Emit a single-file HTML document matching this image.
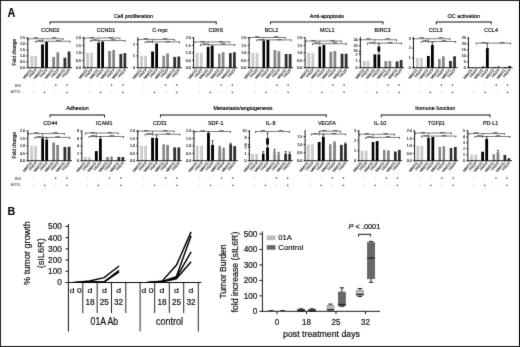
<!DOCTYPE html>
<html><head><meta charset="utf-8"><title>Figure</title>
<style>html,body{margin:0;padding:0;background:#fff;}body{width:520px;height:347px;overflow:hidden;}svg{display:block;font-family:"Liberation Sans", sans-serif;}</style>
</head><body>
<svg width="520" height="347" viewBox="0 0 520 347">
<defs><filter id="soft" x="0" y="0" width="1" height="1" color-interpolation-filters="sRGB"><feConvolveMatrix order="3" kernelMatrix="1 6 1 6 60 6 1 6 1" divisor="88" edgeMode="duplicate" preserveAlpha="true"/></filter></defs>
<g filter="url(#soft)">
<rect x="0" y="0" width="520" height="347" fill="#fff"/>
<text transform="translate(50.3 32.05) scale(0.1000 0.1)" font-size="54.00" text-anchor="middle" font-weight="normal" fill="#000" stroke="#000" stroke-width="1.40" >CCND2</text>
<rect x="30.48" y="55.90" width="2.80" height="11.85" fill="#c9c9c9" />
<rect x="34.23" y="55.90" width="2.80" height="11.85" fill="#c9c9c9" />
<rect x="41.10" y="44.40" width="2.80" height="23.35" fill="#000000" />
<rect x="45.15" y="41.90" width="2.80" height="25.85" fill="#000000" />
<rect x="52.25" y="56.90" width="2.75" height="10.85" fill="#858585" />
<rect x="56.43" y="52.25" width="2.80" height="15.50" fill="#858585" />
<rect x="63.50" y="57.75" width="2.75" height="10.00" fill="#303030" />
<rect x="67.65" y="51.50" width="2.80" height="16.25" fill="#303030" />
<line x1="27.85" y1="37.3" x2="27.85" y2="68.15" stroke="#000" stroke-width="0.9" />
<line x1="27.450000000000003" y1="67.75" x2="72" y2="67.75" stroke="#000" stroke-width="0.9" />
<line x1="26.35" y1="37.9" x2="27.85" y2="37.9" stroke="#000" stroke-width="0.8" />
<text transform="translate(25.150000000000002 39.199999999999996) scale(0.1000 0.1)" font-size="37.00" text-anchor="end" font-weight="normal" fill="#111" stroke="#111" stroke-width="1.20" >2.5</text>
<line x1="26.35" y1="44" x2="27.85" y2="44" stroke="#000" stroke-width="0.8" />
<text transform="translate(25.150000000000002 45.3) scale(0.1000 0.1)" font-size="37.00" text-anchor="end" font-weight="normal" fill="#111" stroke="#111" stroke-width="1.20" >2.0</text>
<line x1="26.35" y1="50" x2="27.85" y2="50" stroke="#000" stroke-width="0.8" />
<text transform="translate(25.150000000000002 51.3) scale(0.1000 0.1)" font-size="37.00" text-anchor="end" font-weight="normal" fill="#111" stroke="#111" stroke-width="1.20" >1.5</text>
<line x1="26.35" y1="56" x2="27.85" y2="56" stroke="#000" stroke-width="0.8" />
<text transform="translate(25.150000000000002 57.3) scale(0.1000 0.1)" font-size="37.00" text-anchor="end" font-weight="normal" fill="#111" stroke="#111" stroke-width="1.20" >1.0</text>
<line x1="26.35" y1="61.9" x2="27.85" y2="61.9" stroke="#000" stroke-width="0.8" />
<text transform="translate(25.150000000000002 63.199999999999996) scale(0.1000 0.1)" font-size="37.00" text-anchor="end" font-weight="normal" fill="#111" stroke="#111" stroke-width="1.20" >0.5</text>
<line x1="26.35" y1="67.75" x2="27.85" y2="67.75" stroke="#000" stroke-width="0.8" />
<text transform="translate(25.150000000000002 69.05) scale(0.1000 0.1)" font-size="37.00" text-anchor="end" font-weight="normal" fill="#111" stroke="#111" stroke-width="1.20" >0.0</text>
<line x1="31.875" y1="67.75" x2="31.875" y2="69.05" stroke="#222" stroke-width="0.5" />
<text transform="translate(32.08 70.35) rotate(-50) scale(0.1120 0.1)" font-size="36.00" text-anchor="end" font-weight="normal" fill="#333" stroke="#333" stroke-width="1.20" >MM1S</text>
<line x1="35.625" y1="67.75" x2="35.625" y2="69.05" stroke="#222" stroke-width="0.5" />
<text transform="translate(36.62 70.35) rotate(-50) scale(0.1120 0.1)" font-size="36.00" text-anchor="end" font-weight="normal" fill="#333" stroke="#333" stroke-width="1.20" >H929</text>
<line x1="42.5" y1="67.75" x2="42.5" y2="69.05" stroke="#222" stroke-width="0.5" />
<text transform="translate(42.7 70.35) rotate(-50) scale(0.1120 0.1)" font-size="36.00" text-anchor="end" font-weight="normal" fill="#333" stroke="#333" stroke-width="1.20" >MM1S</text>
<line x1="46.55" y1="67.75" x2="46.55" y2="69.05" stroke="#222" stroke-width="0.5" />
<text transform="translate(47.55 70.35) rotate(-50) scale(0.1120 0.1)" font-size="36.00" text-anchor="end" font-weight="normal" fill="#333" stroke="#333" stroke-width="1.20" >H929</text>
<line x1="53.625" y1="67.75" x2="53.625" y2="69.05" stroke="#222" stroke-width="0.5" />
<text transform="translate(53.83 70.35) rotate(-50) scale(0.1120 0.1)" font-size="36.00" text-anchor="end" font-weight="normal" fill="#333" stroke="#333" stroke-width="1.20" >MM1S</text>
<line x1="57.825" y1="67.75" x2="57.825" y2="69.05" stroke="#222" stroke-width="0.5" />
<text transform="translate(58.83 70.35) rotate(-50) scale(0.1120 0.1)" font-size="36.00" text-anchor="end" font-weight="normal" fill="#333" stroke="#333" stroke-width="1.20" >H929</text>
<line x1="64.875" y1="67.75" x2="64.875" y2="69.05" stroke="#222" stroke-width="0.5" />
<text transform="translate(65.07 70.35) rotate(-50) scale(0.1120 0.1)" font-size="36.00" text-anchor="end" font-weight="normal" fill="#333" stroke="#333" stroke-width="1.20" >MM1S</text>
<line x1="69.05" y1="67.75" x2="69.05" y2="69.05" stroke="#222" stroke-width="0.5" />
<text transform="translate(70.05 70.35) rotate(-50) scale(0.1120 0.1)" font-size="36.00" text-anchor="end" font-weight="normal" fill="#333" stroke="#333" stroke-width="1.20" >H929</text>
<line x1="28" y1="38.75" x2="63" y2="38.75" stroke="#222" stroke-width="0.6" />
<line x1="28" y1="38.45" x2="28" y2="40.15" stroke="#111" stroke-width="0.7" />
<line x1="63" y1="38.45" x2="63" y2="40.15" stroke="#111" stroke-width="0.7" />
<text transform="translate(35.7 40.45) scale(0.1000 0.1)" font-size="29.00" text-anchor="middle" font-weight="normal" fill="#333" stroke="#333" stroke-width="1.00" >****</text>
<text transform="translate(54.25 40.45) scale(0.1000 0.1)" font-size="29.00" text-anchor="middle" font-weight="normal" fill="#333" stroke="#333" stroke-width="1.00" >****</text>
<line x1="35.6" y1="41.25" x2="70" y2="41.25" stroke="#222" stroke-width="0.6" />
<line x1="35.6" y1="40.95" x2="35.6" y2="42.65" stroke="#111" stroke-width="0.7" />
<line x1="70" y1="40.95" x2="70" y2="42.65" stroke="#111" stroke-width="0.7" />
<text transform="translate(39.728 42.95) scale(0.1000 0.1)" font-size="29.00" text-anchor="middle" font-weight="normal" fill="#333" stroke="#333" stroke-width="1.00" >****</text>
<text transform="translate(58.304 42.95) scale(0.1000 0.1)" font-size="29.00" text-anchor="middle" font-weight="normal" fill="#333" stroke="#333" stroke-width="1.00" >****</text>
<line x1="42.5" y1="38.75" x2="42.5" y2="42.75" stroke="#222" stroke-width="0.55" />
<line x1="32.95" y1="85.1" x2="34.55" y2="85.1" stroke="#dadada" stroke-width="1.3" />
<line x1="32.95" y1="92.4" x2="34.55" y2="92.4" stroke="#dadada" stroke-width="1.3" />
<line x1="43.725" y1="85.1" x2="45.324999999999996" y2="85.1" stroke="#dadada" stroke-width="1.3" />
<line x1="43.625" y1="92.4" x2="45.425" y2="92.4" stroke="#333" stroke-width="0.55" />
<line x1="44.525" y1="91.5" x2="44.525" y2="93.30000000000001" stroke="#333" stroke-width="0.55" />
<line x1="54.8375" y1="85.1" x2="56.637499999999996" y2="85.1" stroke="#333" stroke-width="0.55" />
<line x1="55.7375" y1="84.19999999999999" x2="55.7375" y2="86.0" stroke="#333" stroke-width="0.55" />
<line x1="54.9375" y1="92.4" x2="56.537499999999994" y2="92.4" stroke="#dadada" stroke-width="1.3" />
<line x1="66.07499999999999" y1="85.1" x2="67.875" y2="85.1" stroke="#333" stroke-width="0.55" />
<line x1="66.975" y1="84.19999999999999" x2="66.975" y2="86.0" stroke="#333" stroke-width="0.55" />
<line x1="66.07499999999999" y1="92.4" x2="67.875" y2="92.4" stroke="#333" stroke-width="0.55" />
<line x1="66.975" y1="91.5" x2="66.975" y2="93.30000000000001" stroke="#333" stroke-width="0.55" />
<text transform="translate(106 32.05) scale(0.1000 0.1)" font-size="54.00" text-anchor="middle" font-weight="normal" fill="#000" stroke="#000" stroke-width="1.40" >CCND1</text>
<rect x="86.25" y="52.75" width="2.75" height="15.00" fill="#c9c9c9" />
<rect x="90.15" y="52.75" width="2.80" height="15.00" fill="#c9c9c9" />
<rect x="97.25" y="42.50" width="2.75" height="25.25" fill="#000000" />
<rect x="101.25" y="41.50" width="2.75" height="26.25" fill="#000000" />
<rect x="108.15" y="51.00" width="2.80" height="16.75" fill="#858585" />
<rect x="112.25" y="50.00" width="2.75" height="17.75" fill="#858585" />
<rect x="119.42" y="54.00" width="2.80" height="13.75" fill="#303030" />
<rect x="123.50" y="53.10" width="2.75" height="14.65" fill="#303030" />
<line x1="83.85" y1="37.3" x2="83.85" y2="68.15" stroke="#000" stroke-width="0.9" />
<line x1="83.44999999999999" y1="67.75" x2="127.8" y2="67.75" stroke="#000" stroke-width="0.9" />
<line x1="82.35" y1="37.7" x2="83.85" y2="37.7" stroke="#000" stroke-width="0.8" />
<text transform="translate(81.14999999999999 39.0) scale(0.1000 0.1)" font-size="37.00" text-anchor="end" font-weight="normal" fill="#111" stroke="#111" stroke-width="1.20" >2.0</text>
<line x1="82.35" y1="45.2" x2="83.85" y2="45.2" stroke="#000" stroke-width="0.8" />
<text transform="translate(81.14999999999999 46.5) scale(0.1000 0.1)" font-size="37.00" text-anchor="end" font-weight="normal" fill="#111" stroke="#111" stroke-width="1.20" >1.5</text>
<line x1="82.35" y1="52.75" x2="83.85" y2="52.75" stroke="#000" stroke-width="0.8" />
<text transform="translate(81.14999999999999 54.05) scale(0.1000 0.1)" font-size="37.00" text-anchor="end" font-weight="normal" fill="#111" stroke="#111" stroke-width="1.20" >1.0</text>
<line x1="82.35" y1="60.25" x2="83.85" y2="60.25" stroke="#000" stroke-width="0.8" />
<text transform="translate(81.14999999999999 61.55) scale(0.1000 0.1)" font-size="37.00" text-anchor="end" font-weight="normal" fill="#111" stroke="#111" stroke-width="1.20" >0.5</text>
<line x1="82.35" y1="67.75" x2="83.85" y2="67.75" stroke="#000" stroke-width="0.8" />
<text transform="translate(81.14999999999999 69.05) scale(0.1000 0.1)" font-size="37.00" text-anchor="end" font-weight="normal" fill="#111" stroke="#111" stroke-width="1.20" >0.0</text>
<line x1="87.625" y1="67.75" x2="87.625" y2="69.05" stroke="#222" stroke-width="0.5" />
<text transform="translate(87.82 70.35) rotate(-50) scale(0.1120 0.1)" font-size="36.00" text-anchor="end" font-weight="normal" fill="#333" stroke="#333" stroke-width="1.20" >MM1S</text>
<line x1="91.55" y1="67.75" x2="91.55" y2="69.05" stroke="#222" stroke-width="0.5" />
<text transform="translate(92.55 70.35) rotate(-50) scale(0.1120 0.1)" font-size="36.00" text-anchor="end" font-weight="normal" fill="#333" stroke="#333" stroke-width="1.20" >H929</text>
<line x1="98.625" y1="67.75" x2="98.625" y2="69.05" stroke="#222" stroke-width="0.5" />
<text transform="translate(98.82 70.35) rotate(-50) scale(0.1120 0.1)" font-size="36.00" text-anchor="end" font-weight="normal" fill="#333" stroke="#333" stroke-width="1.20" >MM1S</text>
<line x1="102.625" y1="67.75" x2="102.625" y2="69.05" stroke="#222" stroke-width="0.5" />
<text transform="translate(103.62 70.35) rotate(-50) scale(0.1120 0.1)" font-size="36.00" text-anchor="end" font-weight="normal" fill="#333" stroke="#333" stroke-width="1.20" >H929</text>
<line x1="109.55" y1="67.75" x2="109.55" y2="69.05" stroke="#222" stroke-width="0.5" />
<text transform="translate(109.75 70.35) rotate(-50) scale(0.1120 0.1)" font-size="36.00" text-anchor="end" font-weight="normal" fill="#333" stroke="#333" stroke-width="1.20" >MM1S</text>
<line x1="113.625" y1="67.75" x2="113.625" y2="69.05" stroke="#222" stroke-width="0.5" />
<text transform="translate(114.62 70.35) rotate(-50) scale(0.1120 0.1)" font-size="36.00" text-anchor="end" font-weight="normal" fill="#333" stroke="#333" stroke-width="1.20" >H929</text>
<line x1="120.825" y1="67.75" x2="120.825" y2="69.05" stroke="#222" stroke-width="0.5" />
<text transform="translate(121.02 70.35) rotate(-50) scale(0.1120 0.1)" font-size="36.00" text-anchor="end" font-weight="normal" fill="#333" stroke="#333" stroke-width="1.20" >MM1S</text>
<line x1="124.875" y1="67.75" x2="124.875" y2="69.05" stroke="#222" stroke-width="0.5" />
<text transform="translate(125.88 70.35) rotate(-50) scale(0.1120 0.1)" font-size="36.00" text-anchor="end" font-weight="normal" fill="#333" stroke="#333" stroke-width="1.20" >H929</text>
<line x1="84" y1="38" x2="120" y2="38" stroke="#222" stroke-width="0.6" />
<line x1="84" y1="37.7" x2="84" y2="39.4" stroke="#111" stroke-width="0.7" />
<line x1="120" y1="37.7" x2="120" y2="39.4" stroke="#111" stroke-width="0.7" />
<text transform="translate(91.92 39.7) scale(0.1000 0.1)" font-size="29.00" text-anchor="middle" font-weight="normal" fill="#333" stroke="#333" stroke-width="1.00" >****</text>
<text transform="translate(111.0 39.7) scale(0.1000 0.1)" font-size="29.00" text-anchor="middle" font-weight="normal" fill="#333" stroke="#333" stroke-width="1.00" >****</text>
<line x1="90.6" y1="40.6" x2="125" y2="40.6" stroke="#222" stroke-width="0.6" />
<line x1="90.6" y1="40.300000000000004" x2="90.6" y2="42.0" stroke="#111" stroke-width="0.7" />
<line x1="125" y1="40.300000000000004" x2="125" y2="42.0" stroke="#111" stroke-width="0.7" />
<text transform="translate(94.728 42.300000000000004) scale(0.1000 0.1)" font-size="29.00" text-anchor="middle" font-weight="normal" fill="#333" stroke="#333" stroke-width="1.00" >****</text>
<text transform="translate(113.304 42.300000000000004) scale(0.1000 0.1)" font-size="29.00" text-anchor="middle" font-weight="normal" fill="#333" stroke="#333" stroke-width="1.00" >****</text>
<line x1="98.625" y1="38" x2="98.625" y2="42.1" stroke="#222" stroke-width="0.55" />
<line x1="88.8" y1="85.1" x2="90.39999999999999" y2="85.1" stroke="#dadada" stroke-width="1.3" />
<line x1="88.8" y1="92.4" x2="90.39999999999999" y2="92.4" stroke="#dadada" stroke-width="1.3" />
<line x1="99.825" y1="85.1" x2="101.425" y2="85.1" stroke="#dadada" stroke-width="1.3" />
<line x1="99.725" y1="92.4" x2="101.525" y2="92.4" stroke="#333" stroke-width="0.55" />
<line x1="100.625" y1="91.5" x2="100.625" y2="93.30000000000001" stroke="#333" stroke-width="0.55" />
<line x1="110.67499999999998" y1="85.1" x2="112.475" y2="85.1" stroke="#333" stroke-width="0.55" />
<line x1="111.57499999999999" y1="84.19999999999999" x2="111.57499999999999" y2="86.0" stroke="#333" stroke-width="0.55" />
<line x1="110.77499999999999" y1="92.4" x2="112.37499999999999" y2="92.4" stroke="#dadada" stroke-width="1.3" />
<line x1="121.9375" y1="85.1" x2="123.73750000000001" y2="85.1" stroke="#333" stroke-width="0.55" />
<line x1="122.8375" y1="84.19999999999999" x2="122.8375" y2="86.0" stroke="#333" stroke-width="0.55" />
<line x1="121.9375" y1="92.4" x2="123.73750000000001" y2="92.4" stroke="#333" stroke-width="0.55" />
<line x1="122.8375" y1="91.5" x2="122.8375" y2="93.30000000000001" stroke="#333" stroke-width="0.55" />
<text transform="translate(160 32.05) scale(0.1000 0.1)" font-size="54.00" text-anchor="middle" font-weight="normal" fill="#000" stroke="#000" stroke-width="1.40" >C-myc</text>
<rect x="140.25" y="55.80" width="2.75" height="11.95" fill="#c9c9c9" />
<rect x="144.25" y="55.80" width="2.75" height="11.95" fill="#c9c9c9" />
<rect x="151.15" y="51.50" width="2.80" height="16.25" fill="#000000" />
<rect x="155.25" y="43.50" width="2.75" height="24.25" fill="#000000" />
<rect x="162.40" y="55.80" width="2.50" height="11.95" fill="#858585" />
<rect x="166.15" y="53.50" width="2.80" height="14.25" fill="#858585" />
<rect x="173.28" y="56.90" width="2.80" height="10.85" fill="#303030" />
<rect x="177.42" y="56.50" width="2.80" height="11.25" fill="#303030" />
<line x1="137.85" y1="37.3" x2="137.85" y2="68.15" stroke="#000" stroke-width="0.9" />
<line x1="137.45" y1="67.75" x2="181.8" y2="67.75" stroke="#000" stroke-width="0.9" />
<line x1="136.35" y1="44.4" x2="137.85" y2="44.4" stroke="#000" stroke-width="0.8" />
<text transform="translate(135.15 45.699999999999996) scale(0.1000 0.1)" font-size="37.00" text-anchor="end" font-weight="normal" fill="#111" stroke="#111" stroke-width="1.20" >2</text>
<line x1="136.35" y1="55.9" x2="137.85" y2="55.9" stroke="#000" stroke-width="0.8" />
<text transform="translate(135.15 57.199999999999996) scale(0.1000 0.1)" font-size="37.00" text-anchor="end" font-weight="normal" fill="#111" stroke="#111" stroke-width="1.20" >1</text>
<line x1="136.35" y1="67.75" x2="137.85" y2="67.75" stroke="#000" stroke-width="0.8" />
<text transform="translate(135.15 69.05) scale(0.1000 0.1)" font-size="37.00" text-anchor="end" font-weight="normal" fill="#111" stroke="#111" stroke-width="1.20" >0</text>
<line x1="141.625" y1="67.75" x2="141.625" y2="69.05" stroke="#222" stroke-width="0.5" />
<text transform="translate(141.82 70.35) rotate(-50) scale(0.1120 0.1)" font-size="36.00" text-anchor="end" font-weight="normal" fill="#333" stroke="#333" stroke-width="1.20" >MM1S</text>
<line x1="145.625" y1="67.75" x2="145.625" y2="69.05" stroke="#222" stroke-width="0.5" />
<text transform="translate(146.62 70.35) rotate(-50) scale(0.1120 0.1)" font-size="36.00" text-anchor="end" font-weight="normal" fill="#333" stroke="#333" stroke-width="1.20" >H929</text>
<line x1="152.55" y1="67.75" x2="152.55" y2="69.05" stroke="#222" stroke-width="0.5" />
<text transform="translate(152.75 70.35) rotate(-50) scale(0.1120 0.1)" font-size="36.00" text-anchor="end" font-weight="normal" fill="#333" stroke="#333" stroke-width="1.20" >MM1S</text>
<line x1="156.625" y1="67.75" x2="156.625" y2="69.05" stroke="#222" stroke-width="0.5" />
<text transform="translate(157.62 70.35) rotate(-50) scale(0.1120 0.1)" font-size="36.00" text-anchor="end" font-weight="normal" fill="#333" stroke="#333" stroke-width="1.20" >H929</text>
<line x1="163.65" y1="67.75" x2="163.65" y2="69.05" stroke="#222" stroke-width="0.5" />
<text transform="translate(163.85 70.35) rotate(-50) scale(0.1120 0.1)" font-size="36.00" text-anchor="end" font-weight="normal" fill="#333" stroke="#333" stroke-width="1.20" >MM1S</text>
<line x1="167.55" y1="67.75" x2="167.55" y2="69.05" stroke="#222" stroke-width="0.5" />
<text transform="translate(168.55 70.35) rotate(-50) scale(0.1120 0.1)" font-size="36.00" text-anchor="end" font-weight="normal" fill="#333" stroke="#333" stroke-width="1.20" >H929</text>
<line x1="174.675" y1="67.75" x2="174.675" y2="69.05" stroke="#222" stroke-width="0.5" />
<text transform="translate(174.88 70.35) rotate(-50) scale(0.1120 0.1)" font-size="36.00" text-anchor="end" font-weight="normal" fill="#333" stroke="#333" stroke-width="1.20" >MM1S</text>
<line x1="178.825" y1="67.75" x2="178.825" y2="69.05" stroke="#222" stroke-width="0.5" />
<text transform="translate(179.82 70.35) rotate(-50) scale(0.1120 0.1)" font-size="36.00" text-anchor="end" font-weight="normal" fill="#333" stroke="#333" stroke-width="1.20" >H929</text>
<line x1="138" y1="39.4" x2="174.25" y2="39.4" stroke="#222" stroke-width="0.6" />
<line x1="138" y1="39.1" x2="138" y2="40.8" stroke="#111" stroke-width="0.7" />
<line x1="174.25" y1="39.1" x2="174.25" y2="40.8" stroke="#111" stroke-width="0.7" />
<text transform="translate(145.975 41.1) scale(0.1000 0.1)" font-size="29.00" text-anchor="middle" font-weight="normal" fill="#333" stroke="#333" stroke-width="1.00" >****</text>
<text transform="translate(165.1875 41.1) scale(0.1000 0.1)" font-size="29.00" text-anchor="middle" font-weight="normal" fill="#333" stroke="#333" stroke-width="1.00" >****</text>
<line x1="145.25" y1="41.9" x2="179.5" y2="41.9" stroke="#222" stroke-width="0.6" />
<line x1="145.25" y1="41.6" x2="145.25" y2="43.3" stroke="#111" stroke-width="0.7" />
<line x1="179.5" y1="41.6" x2="179.5" y2="43.3" stroke="#111" stroke-width="0.7" />
<text transform="translate(149.36 43.6) scale(0.1000 0.1)" font-size="29.00" text-anchor="middle" font-weight="normal" fill="#333" stroke="#333" stroke-width="1.00" >****</text>
<text transform="translate(167.855 43.6) scale(0.1000 0.1)" font-size="29.00" text-anchor="middle" font-weight="normal" fill="#333" stroke="#333" stroke-width="1.00" >****</text>
<line x1="152.55" y1="39.4" x2="152.55" y2="43.4" stroke="#222" stroke-width="0.55" />
<line x1="142.825" y1="85.1" x2="144.425" y2="85.1" stroke="#dadada" stroke-width="1.3" />
<line x1="142.825" y1="92.4" x2="144.425" y2="92.4" stroke="#dadada" stroke-width="1.3" />
<line x1="153.77499999999998" y1="85.1" x2="155.375" y2="85.1" stroke="#dadada" stroke-width="1.3" />
<line x1="153.67499999999998" y1="92.4" x2="155.475" y2="92.4" stroke="#333" stroke-width="0.55" />
<line x1="154.575" y1="91.5" x2="154.575" y2="93.30000000000001" stroke="#333" stroke-width="0.55" />
<line x1="164.775" y1="85.1" x2="166.57500000000002" y2="85.1" stroke="#333" stroke-width="0.55" />
<line x1="165.675" y1="84.19999999999999" x2="165.675" y2="86.0" stroke="#333" stroke-width="0.55" />
<line x1="164.875" y1="92.4" x2="166.47500000000002" y2="92.4" stroke="#dadada" stroke-width="1.3" />
<line x1="175.85" y1="85.1" x2="177.65" y2="85.1" stroke="#333" stroke-width="0.55" />
<line x1="176.75" y1="84.19999999999999" x2="176.75" y2="86.0" stroke="#333" stroke-width="0.55" />
<line x1="175.85" y1="92.4" x2="177.65" y2="92.4" stroke="#333" stroke-width="0.55" />
<line x1="176.75" y1="91.5" x2="176.75" y2="93.30000000000001" stroke="#333" stroke-width="0.55" />
<text transform="translate(215.75 32.05) scale(0.1000 0.1)" font-size="54.00" text-anchor="middle" font-weight="normal" fill="#000" stroke="#000" stroke-width="1.40" >CDK6</text>
<rect x="195.78" y="52.75" width="2.80" height="15.00" fill="#c9c9c9" />
<rect x="199.92" y="52.75" width="2.80" height="15.00" fill="#c9c9c9" />
<rect x="206.75" y="46.90" width="2.75" height="20.85" fill="#000000" />
<rect x="210.78" y="45.60" width="2.80" height="22.15" fill="#000000" />
<rect x="218.00" y="53.75" width="2.50" height="14.00" fill="#858585" />
<rect x="221.75" y="52.25" width="2.75" height="15.50" fill="#858585" />
<rect x="229.00" y="53.10" width="2.75" height="14.65" fill="#303030" />
<rect x="233.00" y="52.25" width="2.75" height="15.50" fill="#303030" />
<line x1="193.6" y1="37.3" x2="193.6" y2="68.15" stroke="#000" stroke-width="0.9" />
<line x1="193.2" y1="67.75" x2="237.3" y2="67.75" stroke="#000" stroke-width="0.9" />
<line x1="192.1" y1="37.7" x2="193.6" y2="37.7" stroke="#000" stroke-width="0.8" />
<text transform="translate(190.9 39.0) scale(0.1000 0.1)" font-size="37.00" text-anchor="end" font-weight="normal" fill="#111" stroke="#111" stroke-width="1.20" >2.0</text>
<line x1="192.1" y1="45.25" x2="193.6" y2="45.25" stroke="#000" stroke-width="0.8" />
<text transform="translate(190.9 46.55) scale(0.1000 0.1)" font-size="37.00" text-anchor="end" font-weight="normal" fill="#111" stroke="#111" stroke-width="1.20" >1.5</text>
<line x1="192.1" y1="52.75" x2="193.6" y2="52.75" stroke="#000" stroke-width="0.8" />
<text transform="translate(190.9 54.05) scale(0.1000 0.1)" font-size="37.00" text-anchor="end" font-weight="normal" fill="#111" stroke="#111" stroke-width="1.20" >1.0</text>
<line x1="192.1" y1="60.4" x2="193.6" y2="60.4" stroke="#000" stroke-width="0.8" />
<text transform="translate(190.9 61.699999999999996) scale(0.1000 0.1)" font-size="37.00" text-anchor="end" font-weight="normal" fill="#111" stroke="#111" stroke-width="1.20" >0.5</text>
<line x1="192.1" y1="67.75" x2="193.6" y2="67.75" stroke="#000" stroke-width="0.8" />
<text transform="translate(190.9 69.05) scale(0.1000 0.1)" font-size="37.00" text-anchor="end" font-weight="normal" fill="#111" stroke="#111" stroke-width="1.20" >0.0</text>
<line x1="197.175" y1="67.75" x2="197.175" y2="69.05" stroke="#222" stroke-width="0.5" />
<text transform="translate(197.38 70.35) rotate(-50) scale(0.1120 0.1)" font-size="36.00" text-anchor="end" font-weight="normal" fill="#333" stroke="#333" stroke-width="1.20" >MM1S</text>
<line x1="201.325" y1="67.75" x2="201.325" y2="69.05" stroke="#222" stroke-width="0.5" />
<text transform="translate(202.32 70.35) rotate(-50) scale(0.1120 0.1)" font-size="36.00" text-anchor="end" font-weight="normal" fill="#333" stroke="#333" stroke-width="1.20" >H929</text>
<line x1="208.125" y1="67.75" x2="208.125" y2="69.05" stroke="#222" stroke-width="0.5" />
<text transform="translate(208.32 70.35) rotate(-50) scale(0.1120 0.1)" font-size="36.00" text-anchor="end" font-weight="normal" fill="#333" stroke="#333" stroke-width="1.20" >MM1S</text>
<line x1="212.175" y1="67.75" x2="212.175" y2="69.05" stroke="#222" stroke-width="0.5" />
<text transform="translate(213.18 70.35) rotate(-50) scale(0.1120 0.1)" font-size="36.00" text-anchor="end" font-weight="normal" fill="#333" stroke="#333" stroke-width="1.20" >H929</text>
<line x1="219.25" y1="67.75" x2="219.25" y2="69.05" stroke="#222" stroke-width="0.5" />
<text transform="translate(219.45 70.35) rotate(-50) scale(0.1120 0.1)" font-size="36.00" text-anchor="end" font-weight="normal" fill="#333" stroke="#333" stroke-width="1.20" >MM1S</text>
<line x1="223.125" y1="67.75" x2="223.125" y2="69.05" stroke="#222" stroke-width="0.5" />
<text transform="translate(224.12 70.35) rotate(-50) scale(0.1120 0.1)" font-size="36.00" text-anchor="end" font-weight="normal" fill="#333" stroke="#333" stroke-width="1.20" >H929</text>
<line x1="230.375" y1="67.75" x2="230.375" y2="69.05" stroke="#222" stroke-width="0.5" />
<text transform="translate(230.57 70.35) rotate(-50) scale(0.1120 0.1)" font-size="36.00" text-anchor="end" font-weight="normal" fill="#333" stroke="#333" stroke-width="1.20" >MM1S</text>
<line x1="234.375" y1="67.75" x2="234.375" y2="69.05" stroke="#222" stroke-width="0.5" />
<text transform="translate(235.38 70.35) rotate(-50) scale(0.1120 0.1)" font-size="36.00" text-anchor="end" font-weight="normal" fill="#333" stroke="#333" stroke-width="1.20" >H929</text>
<line x1="194.9" y1="41.9" x2="229.9" y2="41.9" stroke="#222" stroke-width="0.6" />
<line x1="194.9" y1="41.6" x2="194.9" y2="43.3" stroke="#111" stroke-width="0.7" />
<line x1="229.9" y1="41.6" x2="229.9" y2="43.3" stroke="#111" stroke-width="0.7" />
<text transform="translate(202.6 43.6) scale(0.1000 0.1)" font-size="29.00" text-anchor="middle" font-weight="normal" fill="#333" stroke="#333" stroke-width="1.00" >****</text>
<text transform="translate(221.15 43.6) scale(0.1000 0.1)" font-size="29.00" text-anchor="middle" font-weight="normal" fill="#333" stroke="#333" stroke-width="1.00" >****</text>
<line x1="200.5" y1="44.75" x2="234.9" y2="44.75" stroke="#222" stroke-width="0.6" />
<line x1="200.5" y1="44.45" x2="200.5" y2="46.15" stroke="#111" stroke-width="0.7" />
<line x1="234.9" y1="44.45" x2="234.9" y2="46.15" stroke="#111" stroke-width="0.7" />
<text transform="translate(204.628 46.45) scale(0.1000 0.1)" font-size="29.00" text-anchor="middle" font-weight="normal" fill="#333" stroke="#333" stroke-width="1.00" >****</text>
<text transform="translate(223.204 46.45) scale(0.1000 0.1)" font-size="29.00" text-anchor="middle" font-weight="normal" fill="#333" stroke="#333" stroke-width="1.00" >****</text>
<line x1="208.125" y1="41.9" x2="208.125" y2="46.25" stroke="#222" stroke-width="0.55" />
<line x1="198.45" y1="85.1" x2="200.05" y2="85.1" stroke="#dadada" stroke-width="1.3" />
<line x1="198.45" y1="92.4" x2="200.05" y2="92.4" stroke="#dadada" stroke-width="1.3" />
<line x1="209.3625" y1="85.1" x2="210.96250000000003" y2="85.1" stroke="#dadada" stroke-width="1.3" />
<line x1="209.26250000000002" y1="92.4" x2="211.06250000000003" y2="92.4" stroke="#333" stroke-width="0.55" />
<line x1="210.16250000000002" y1="91.5" x2="210.16250000000002" y2="93.30000000000001" stroke="#333" stroke-width="0.55" />
<line x1="220.35" y1="85.1" x2="222.15" y2="85.1" stroke="#333" stroke-width="0.55" />
<line x1="221.25" y1="84.19999999999999" x2="221.25" y2="86.0" stroke="#333" stroke-width="0.55" />
<line x1="220.45" y1="92.4" x2="222.05" y2="92.4" stroke="#dadada" stroke-width="1.3" />
<line x1="231.475" y1="85.1" x2="233.275" y2="85.1" stroke="#333" stroke-width="0.55" />
<line x1="232.375" y1="84.19999999999999" x2="232.375" y2="86.0" stroke="#333" stroke-width="0.55" />
<line x1="231.475" y1="92.4" x2="233.275" y2="92.4" stroke="#333" stroke-width="0.55" />
<line x1="232.375" y1="91.5" x2="232.375" y2="93.30000000000001" stroke="#333" stroke-width="0.55" />
<text transform="translate(271.5 32.05) scale(0.1000 0.1)" font-size="54.00" text-anchor="middle" font-weight="normal" fill="#000" stroke="#000" stroke-width="1.40" >BCL2</text>
<rect x="251.55" y="52.75" width="2.80" height="15.00" fill="#c9c9c9" />
<rect x="255.65" y="52.75" width="2.80" height="15.00" fill="#c9c9c9" />
<rect x="262.50" y="40.60" width="2.50" height="27.15" fill="#000000" />
<rect x="266.55" y="40.00" width="2.80" height="27.75" fill="#000000" />
<rect x="273.50" y="50.00" width="2.75" height="17.75" fill="#858585" />
<rect x="277.50" y="51.25" width="2.75" height="16.50" fill="#858585" />
<rect x="284.75" y="54.00" width="2.75" height="13.75" fill="#303030" />
<rect x="288.75" y="54.00" width="2.75" height="13.75" fill="#303030" />
<line x1="249.1" y1="37.3" x2="249.1" y2="68.15" stroke="#000" stroke-width="0.9" />
<line x1="248.7" y1="67.75" x2="293" y2="67.75" stroke="#000" stroke-width="0.9" />
<line x1="247.6" y1="37.7" x2="249.1" y2="37.7" stroke="#000" stroke-width="0.8" />
<text transform="translate(246.4 39.0) scale(0.1000 0.1)" font-size="37.00" text-anchor="end" font-weight="normal" fill="#111" stroke="#111" stroke-width="1.20" >2.0</text>
<line x1="247.6" y1="45.25" x2="249.1" y2="45.25" stroke="#000" stroke-width="0.8" />
<text transform="translate(246.4 46.55) scale(0.1000 0.1)" font-size="37.00" text-anchor="end" font-weight="normal" fill="#111" stroke="#111" stroke-width="1.20" >1.5</text>
<line x1="247.6" y1="52.75" x2="249.1" y2="52.75" stroke="#000" stroke-width="0.8" />
<text transform="translate(246.4 54.05) scale(0.1000 0.1)" font-size="37.00" text-anchor="end" font-weight="normal" fill="#111" stroke="#111" stroke-width="1.20" >1.0</text>
<line x1="247.6" y1="60.4" x2="249.1" y2="60.4" stroke="#000" stroke-width="0.8" />
<text transform="translate(246.4 61.699999999999996) scale(0.1000 0.1)" font-size="37.00" text-anchor="end" font-weight="normal" fill="#111" stroke="#111" stroke-width="1.20" >0.5</text>
<line x1="247.6" y1="67.75" x2="249.1" y2="67.75" stroke="#000" stroke-width="0.8" />
<text transform="translate(246.4 69.05) scale(0.1000 0.1)" font-size="37.00" text-anchor="end" font-weight="normal" fill="#111" stroke="#111" stroke-width="1.20" >0.0</text>
<line x1="252.95" y1="67.75" x2="252.95" y2="69.05" stroke="#222" stroke-width="0.5" />
<text transform="translate(253.15 70.35) rotate(-50) scale(0.1120 0.1)" font-size="36.00" text-anchor="end" font-weight="normal" fill="#333" stroke="#333" stroke-width="1.20" >MM1S</text>
<line x1="257.05" y1="67.75" x2="257.05" y2="69.05" stroke="#222" stroke-width="0.5" />
<text transform="translate(258.05 70.35) rotate(-50) scale(0.1120 0.1)" font-size="36.00" text-anchor="end" font-weight="normal" fill="#333" stroke="#333" stroke-width="1.20" >H929</text>
<line x1="263.75" y1="67.75" x2="263.75" y2="69.05" stroke="#222" stroke-width="0.5" />
<text transform="translate(263.95 70.35) rotate(-50) scale(0.1120 0.1)" font-size="36.00" text-anchor="end" font-weight="normal" fill="#333" stroke="#333" stroke-width="1.20" >MM1S</text>
<line x1="267.95" y1="67.75" x2="267.95" y2="69.05" stroke="#222" stroke-width="0.5" />
<text transform="translate(268.95 70.35) rotate(-50) scale(0.1120 0.1)" font-size="36.00" text-anchor="end" font-weight="normal" fill="#333" stroke="#333" stroke-width="1.20" >H929</text>
<line x1="274.875" y1="67.75" x2="274.875" y2="69.05" stroke="#222" stroke-width="0.5" />
<text transform="translate(275.08 70.35) rotate(-50) scale(0.1120 0.1)" font-size="36.00" text-anchor="end" font-weight="normal" fill="#333" stroke="#333" stroke-width="1.20" >MM1S</text>
<line x1="278.875" y1="67.75" x2="278.875" y2="69.05" stroke="#222" stroke-width="0.5" />
<text transform="translate(279.88 70.35) rotate(-50) scale(0.1120 0.1)" font-size="36.00" text-anchor="end" font-weight="normal" fill="#333" stroke="#333" stroke-width="1.20" >H929</text>
<line x1="286.125" y1="67.75" x2="286.125" y2="69.05" stroke="#222" stroke-width="0.5" />
<text transform="translate(286.33 70.35) rotate(-50) scale(0.1120 0.1)" font-size="36.00" text-anchor="end" font-weight="normal" fill="#333" stroke="#333" stroke-width="1.20" >MM1S</text>
<line x1="290.125" y1="67.75" x2="290.125" y2="69.05" stroke="#222" stroke-width="0.5" />
<text transform="translate(291.12 70.35) rotate(-50) scale(0.1120 0.1)" font-size="36.00" text-anchor="end" font-weight="normal" fill="#333" stroke="#333" stroke-width="1.20" >H929</text>
<line x1="249.2" y1="37.5" x2="285.25" y2="37.5" stroke="#222" stroke-width="0.6" />
<line x1="249.2" y1="37.2" x2="249.2" y2="38.9" stroke="#111" stroke-width="0.7" />
<line x1="285.25" y1="37.2" x2="285.25" y2="38.9" stroke="#111" stroke-width="0.7" />
<text transform="translate(257.131 39.2) scale(0.1000 0.1)" font-size="29.00" text-anchor="middle" font-weight="normal" fill="#333" stroke="#333" stroke-width="1.00" >****</text>
<text transform="translate(276.2375 39.2) scale(0.1000 0.1)" font-size="29.00" text-anchor="middle" font-weight="normal" fill="#333" stroke="#333" stroke-width="1.00" >****</text>
<line x1="256.9" y1="39.9" x2="291.25" y2="39.9" stroke="#222" stroke-width="0.6" />
<line x1="256.9" y1="39.6" x2="256.9" y2="41.3" stroke="#111" stroke-width="0.7" />
<line x1="291.25" y1="39.6" x2="291.25" y2="41.3" stroke="#111" stroke-width="0.7" />
<text transform="translate(261.022 41.6) scale(0.1000 0.1)" font-size="29.00" text-anchor="middle" font-weight="normal" fill="#333" stroke="#333" stroke-width="1.00" >****</text>
<text transform="translate(279.57099999999997 41.6) scale(0.1000 0.1)" font-size="29.00" text-anchor="middle" font-weight="normal" fill="#333" stroke="#333" stroke-width="1.00" >****</text>
<line x1="263.75" y1="37.5" x2="263.75" y2="41.4" stroke="#222" stroke-width="0.55" />
<line x1="254.2" y1="85.1" x2="255.8" y2="85.1" stroke="#dadada" stroke-width="1.3" />
<line x1="254.2" y1="92.4" x2="255.8" y2="92.4" stroke="#dadada" stroke-width="1.3" />
<line x1="265.12499999999994" y1="85.1" x2="266.72499999999997" y2="85.1" stroke="#dadada" stroke-width="1.3" />
<line x1="265.025" y1="92.4" x2="266.82499999999993" y2="92.4" stroke="#333" stroke-width="0.55" />
<line x1="265.92499999999995" y1="91.5" x2="265.92499999999995" y2="93.30000000000001" stroke="#333" stroke-width="0.55" />
<line x1="275.975" y1="85.1" x2="277.775" y2="85.1" stroke="#333" stroke-width="0.55" />
<line x1="276.875" y1="84.19999999999999" x2="276.875" y2="86.0" stroke="#333" stroke-width="0.55" />
<line x1="276.075" y1="92.4" x2="277.675" y2="92.4" stroke="#dadada" stroke-width="1.3" />
<line x1="287.225" y1="85.1" x2="289.025" y2="85.1" stroke="#333" stroke-width="0.55" />
<line x1="288.125" y1="84.19999999999999" x2="288.125" y2="86.0" stroke="#333" stroke-width="0.55" />
<line x1="287.225" y1="92.4" x2="289.025" y2="92.4" stroke="#333" stroke-width="0.55" />
<line x1="288.125" y1="91.5" x2="288.125" y2="93.30000000000001" stroke="#333" stroke-width="0.55" />
<text transform="translate(327.25 32.05) scale(0.1000 0.1)" font-size="54.00" text-anchor="middle" font-weight="normal" fill="#000" stroke="#000" stroke-width="1.40" >MCL1</text>
<rect x="307.35" y="52.75" width="2.80" height="15.00" fill="#c9c9c9" />
<rect x="311.43" y="52.75" width="2.80" height="15.00" fill="#c9c9c9" />
<rect x="318.50" y="46.50" width="2.50" height="21.25" fill="#000000" />
<rect x="322.50" y="45.00" width="2.75" height="22.75" fill="#000000" />
<rect x="329.43" y="51.90" width="2.80" height="15.85" fill="#858585" />
<rect x="333.50" y="51.00" width="2.75" height="16.75" fill="#858585" />
<rect x="340.65" y="53.75" width="2.80" height="14.00" fill="#303030" />
<rect x="344.75" y="53.75" width="2.75" height="14.00" fill="#303030" />
<line x1="305.1" y1="37.3" x2="305.1" y2="68.15" stroke="#000" stroke-width="0.9" />
<line x1="304.70000000000005" y1="67.75" x2="349" y2="67.75" stroke="#000" stroke-width="0.9" />
<line x1="303.6" y1="37.7" x2="305.1" y2="37.7" stroke="#000" stroke-width="0.8" />
<text transform="translate(302.40000000000003 39.0) scale(0.1000 0.1)" font-size="37.00" text-anchor="end" font-weight="normal" fill="#111" stroke="#111" stroke-width="1.20" >2.0</text>
<line x1="303.6" y1="45.25" x2="305.1" y2="45.25" stroke="#000" stroke-width="0.8" />
<text transform="translate(302.40000000000003 46.55) scale(0.1000 0.1)" font-size="37.00" text-anchor="end" font-weight="normal" fill="#111" stroke="#111" stroke-width="1.20" >1.5</text>
<line x1="303.6" y1="52.75" x2="305.1" y2="52.75" stroke="#000" stroke-width="0.8" />
<text transform="translate(302.40000000000003 54.05) scale(0.1000 0.1)" font-size="37.00" text-anchor="end" font-weight="normal" fill="#111" stroke="#111" stroke-width="1.20" >1.0</text>
<line x1="303.6" y1="60.4" x2="305.1" y2="60.4" stroke="#000" stroke-width="0.8" />
<text transform="translate(302.40000000000003 61.699999999999996) scale(0.1000 0.1)" font-size="37.00" text-anchor="end" font-weight="normal" fill="#111" stroke="#111" stroke-width="1.20" >0.5</text>
<line x1="303.6" y1="67.75" x2="305.1" y2="67.75" stroke="#000" stroke-width="0.8" />
<text transform="translate(302.40000000000003 69.05) scale(0.1000 0.1)" font-size="37.00" text-anchor="end" font-weight="normal" fill="#111" stroke="#111" stroke-width="1.20" >0.0</text>
<line x1="308.75" y1="67.75" x2="308.75" y2="69.05" stroke="#222" stroke-width="0.5" />
<text transform="translate(308.95 70.35) rotate(-50) scale(0.1120 0.1)" font-size="36.00" text-anchor="end" font-weight="normal" fill="#333" stroke="#333" stroke-width="1.20" >MM1S</text>
<line x1="312.825" y1="67.75" x2="312.825" y2="69.05" stroke="#222" stroke-width="0.5" />
<text transform="translate(313.82 70.35) rotate(-50) scale(0.1120 0.1)" font-size="36.00" text-anchor="end" font-weight="normal" fill="#333" stroke="#333" stroke-width="1.20" >H929</text>
<line x1="319.75" y1="67.75" x2="319.75" y2="69.05" stroke="#222" stroke-width="0.5" />
<text transform="translate(319.95 70.35) rotate(-50) scale(0.1120 0.1)" font-size="36.00" text-anchor="end" font-weight="normal" fill="#333" stroke="#333" stroke-width="1.20" >MM1S</text>
<line x1="323.875" y1="67.75" x2="323.875" y2="69.05" stroke="#222" stroke-width="0.5" />
<text transform="translate(324.88 70.35) rotate(-50) scale(0.1120 0.1)" font-size="36.00" text-anchor="end" font-weight="normal" fill="#333" stroke="#333" stroke-width="1.20" >H929</text>
<line x1="330.825" y1="67.75" x2="330.825" y2="69.05" stroke="#222" stroke-width="0.5" />
<text transform="translate(331.03 70.35) rotate(-50) scale(0.1120 0.1)" font-size="36.00" text-anchor="end" font-weight="normal" fill="#333" stroke="#333" stroke-width="1.20" >MM1S</text>
<line x1="334.875" y1="67.75" x2="334.875" y2="69.05" stroke="#222" stroke-width="0.5" />
<text transform="translate(335.88 70.35) rotate(-50) scale(0.1120 0.1)" font-size="36.00" text-anchor="end" font-weight="normal" fill="#333" stroke="#333" stroke-width="1.20" >H929</text>
<line x1="342.05" y1="67.75" x2="342.05" y2="69.05" stroke="#222" stroke-width="0.5" />
<text transform="translate(342.25 70.35) rotate(-50) scale(0.1120 0.1)" font-size="36.00" text-anchor="end" font-weight="normal" fill="#333" stroke="#333" stroke-width="1.20" >MM1S</text>
<line x1="346.125" y1="67.75" x2="346.125" y2="69.05" stroke="#222" stroke-width="0.5" />
<text transform="translate(347.12 70.35) rotate(-50) scale(0.1120 0.1)" font-size="36.00" text-anchor="end" font-weight="normal" fill="#333" stroke="#333" stroke-width="1.20" >H929</text>
<line x1="305.6" y1="41" x2="341.5" y2="41" stroke="#222" stroke-width="0.6" />
<line x1="305.6" y1="40.7" x2="305.6" y2="42.4" stroke="#111" stroke-width="0.7" />
<line x1="341.5" y1="40.7" x2="341.5" y2="42.4" stroke="#111" stroke-width="0.7" />
<text transform="translate(313.498 42.7) scale(0.1000 0.1)" font-size="29.00" text-anchor="middle" font-weight="normal" fill="#333" stroke="#333" stroke-width="1.00" >****</text>
<text transform="translate(332.525 42.7) scale(0.1000 0.1)" font-size="29.00" text-anchor="middle" font-weight="normal" fill="#333" stroke="#333" stroke-width="1.00" >****</text>
<line x1="312.5" y1="43.75" x2="346.5" y2="43.75" stroke="#222" stroke-width="0.6" />
<line x1="312.5" y1="43.45" x2="312.5" y2="45.15" stroke="#111" stroke-width="0.7" />
<line x1="346.5" y1="43.45" x2="346.5" y2="45.15" stroke="#111" stroke-width="0.7" />
<text transform="translate(316.58 45.45) scale(0.1000 0.1)" font-size="29.00" text-anchor="middle" font-weight="normal" fill="#333" stroke="#333" stroke-width="1.00" >****</text>
<text transform="translate(334.94 45.45) scale(0.1000 0.1)" font-size="29.00" text-anchor="middle" font-weight="normal" fill="#333" stroke="#333" stroke-width="1.00" >****</text>
<line x1="319.75" y1="41" x2="319.75" y2="45.25" stroke="#222" stroke-width="0.55" />
<line x1="309.9875" y1="85.1" x2="311.58750000000003" y2="85.1" stroke="#dadada" stroke-width="1.3" />
<line x1="309.9875" y1="92.4" x2="311.58750000000003" y2="92.4" stroke="#dadada" stroke-width="1.3" />
<line x1="321.075" y1="85.1" x2="322.675" y2="85.1" stroke="#dadada" stroke-width="1.3" />
<line x1="320.975" y1="92.4" x2="322.775" y2="92.4" stroke="#333" stroke-width="0.55" />
<line x1="321.875" y1="91.5" x2="321.875" y2="93.30000000000001" stroke="#333" stroke-width="0.55" />
<line x1="331.9375" y1="85.1" x2="333.73749999999995" y2="85.1" stroke="#333" stroke-width="0.55" />
<line x1="332.8375" y1="84.19999999999999" x2="332.8375" y2="86.0" stroke="#333" stroke-width="0.55" />
<line x1="332.03749999999997" y1="92.4" x2="333.6375" y2="92.4" stroke="#dadada" stroke-width="1.3" />
<line x1="343.17500000000007" y1="85.1" x2="344.975" y2="85.1" stroke="#333" stroke-width="0.55" />
<line x1="344.07500000000005" y1="84.19999999999999" x2="344.07500000000005" y2="86.0" stroke="#333" stroke-width="0.55" />
<line x1="343.17500000000007" y1="92.4" x2="344.975" y2="92.4" stroke="#333" stroke-width="0.55" />
<line x1="344.07500000000005" y1="91.5" x2="344.07500000000005" y2="93.30000000000001" stroke="#333" stroke-width="0.55" />
<text transform="translate(382.5 32.05) scale(0.1000 0.1)" font-size="54.00" text-anchor="middle" font-weight="normal" fill="#000" stroke="#000" stroke-width="1.40" >BIRC3</text>
<rect x="362.78" y="60.80" width="2.80" height="6.95" fill="#c9c9c9" />
<rect x="366.55" y="60.80" width="2.80" height="6.95" fill="#c9c9c9" />
<rect x="373.50" y="54.40" width="2.75" height="13.35" fill="#000000" />
<rect x="377.50" y="54.40" width="2.75" height="13.35" fill="#000000" />
<rect x="377.50" y="46.60" width="2.75" height="5.00" fill="#000000" />
<line x1="378.875" y1="54.4" x2="378.875" y2="43.4" stroke="#111" stroke-width="0.7" />
<line x1="377.775" y1="43.4" x2="379.975" y2="43.4" stroke="#111" stroke-width="0.6" />
<rect x="384.43" y="61.10" width="2.80" height="6.65" fill="#858585" />
<rect x="388.50" y="60.80" width="2.75" height="6.95" fill="#858585" />
<rect x="395.65" y="61.40" width="2.80" height="6.35" fill="#303030" />
<rect x="399.75" y="60.10" width="2.75" height="7.65" fill="#303030" />
<line x1="360.35" y1="36.9" x2="360.35" y2="52.1" stroke="#000" stroke-width="0.9" />
<line x1="360.35" y1="53.300000000000004" x2="360.35" y2="68.15" stroke="#000" stroke-width="0.9" />
<line x1="359.15000000000003" y1="52.1" x2="361.55" y2="52.1" stroke="#000" stroke-width="0.5" />
<line x1="359.15000000000003" y1="53.300000000000004" x2="361.55" y2="53.300000000000004" stroke="#000" stroke-width="0.5" />
<line x1="359.95000000000005" y1="67.75" x2="404" y2="67.75" stroke="#000" stroke-width="0.9" />
<line x1="358.85" y1="39.75" x2="360.35" y2="39.75" stroke="#000" stroke-width="0.8" />
<text transform="translate(357.65000000000003 41.05) scale(0.1000 0.1)" font-size="37.00" text-anchor="end" font-weight="normal" fill="#111" stroke="#111" stroke-width="1.20" >24</text>
<line x1="358.85" y1="45.6" x2="360.35" y2="45.6" stroke="#000" stroke-width="0.8" />
<text transform="translate(357.65000000000003 46.9) scale(0.1000 0.1)" font-size="37.00" text-anchor="end" font-weight="normal" fill="#111" stroke="#111" stroke-width="1.20" >20</text>
<line x1="358.85" y1="51.1" x2="360.35" y2="51.1" stroke="#000" stroke-width="0.8" />
<text transform="translate(357.65000000000003 52.4) scale(0.1000 0.1)" font-size="37.00" text-anchor="end" font-weight="normal" fill="#111" stroke="#111" stroke-width="1.20" >16</text>
<line x1="358.85" y1="54.2" x2="360.35" y2="54.2" stroke="#000" stroke-width="0.8" />
<text transform="translate(357.65000000000003 55.5) scale(0.1000 0.1)" font-size="37.00" text-anchor="end" font-weight="normal" fill="#111" stroke="#111" stroke-width="1.20" >2</text>
<line x1="358.85" y1="60.8" x2="360.35" y2="60.8" stroke="#000" stroke-width="0.8" />
<text transform="translate(357.65000000000003 62.099999999999994) scale(0.1000 0.1)" font-size="37.00" text-anchor="end" font-weight="normal" fill="#111" stroke="#111" stroke-width="1.20" >1</text>
<line x1="358.85" y1="67.75" x2="360.35" y2="67.75" stroke="#000" stroke-width="0.8" />
<text transform="translate(357.65000000000003 69.05) scale(0.1000 0.1)" font-size="37.00" text-anchor="end" font-weight="normal" fill="#111" stroke="#111" stroke-width="1.20" >0</text>
<line x1="364.175" y1="67.75" x2="364.175" y2="69.05" stroke="#222" stroke-width="0.5" />
<text transform="translate(364.38 70.35) rotate(-50) scale(0.1120 0.1)" font-size="36.00" text-anchor="end" font-weight="normal" fill="#333" stroke="#333" stroke-width="1.20" >MM1S</text>
<line x1="367.95" y1="67.75" x2="367.95" y2="69.05" stroke="#222" stroke-width="0.5" />
<text transform="translate(368.95 70.35) rotate(-50) scale(0.1120 0.1)" font-size="36.00" text-anchor="end" font-weight="normal" fill="#333" stroke="#333" stroke-width="1.20" >H929</text>
<line x1="374.875" y1="67.75" x2="374.875" y2="69.05" stroke="#222" stroke-width="0.5" />
<text transform="translate(375.08 70.35) rotate(-50) scale(0.1120 0.1)" font-size="36.00" text-anchor="end" font-weight="normal" fill="#333" stroke="#333" stroke-width="1.20" >MM1S</text>
<line x1="378.875" y1="67.75" x2="378.875" y2="69.05" stroke="#222" stroke-width="0.5" />
<text transform="translate(379.88 70.35) rotate(-50) scale(0.1120 0.1)" font-size="36.00" text-anchor="end" font-weight="normal" fill="#333" stroke="#333" stroke-width="1.20" >H929</text>
<line x1="385.825" y1="67.75" x2="385.825" y2="69.05" stroke="#222" stroke-width="0.5" />
<text transform="translate(386.03 70.35) rotate(-50) scale(0.1120 0.1)" font-size="36.00" text-anchor="end" font-weight="normal" fill="#333" stroke="#333" stroke-width="1.20" >MM1S</text>
<line x1="389.875" y1="67.75" x2="389.875" y2="69.05" stroke="#222" stroke-width="0.5" />
<text transform="translate(390.88 70.35) rotate(-50) scale(0.1120 0.1)" font-size="36.00" text-anchor="end" font-weight="normal" fill="#333" stroke="#333" stroke-width="1.20" >H929</text>
<line x1="397.05" y1="67.75" x2="397.05" y2="69.05" stroke="#222" stroke-width="0.5" />
<text transform="translate(397.25 70.35) rotate(-50) scale(0.1120 0.1)" font-size="36.00" text-anchor="end" font-weight="normal" fill="#333" stroke="#333" stroke-width="1.20" >MM1S</text>
<line x1="401.125" y1="67.75" x2="401.125" y2="69.05" stroke="#222" stroke-width="0.5" />
<text transform="translate(402.12 70.35) rotate(-50) scale(0.1120 0.1)" font-size="36.00" text-anchor="end" font-weight="normal" fill="#333" stroke="#333" stroke-width="1.20" >H929</text>
<line x1="360.6" y1="39.75" x2="396.5" y2="39.75" stroke="#222" stroke-width="0.6" />
<line x1="360.6" y1="39.45" x2="360.6" y2="41.15" stroke="#111" stroke-width="0.7" />
<line x1="396.5" y1="39.45" x2="396.5" y2="41.15" stroke="#111" stroke-width="0.7" />
<text transform="translate(368.498 41.45) scale(0.1000 0.1)" font-size="29.00" text-anchor="middle" font-weight="normal" fill="#333" stroke="#333" stroke-width="1.00" >****</text>
<text transform="translate(387.525 41.45) scale(0.1000 0.1)" font-size="29.00" text-anchor="middle" font-weight="normal" fill="#333" stroke="#333" stroke-width="1.00" >****</text>
<line x1="367.5" y1="43.1" x2="401.5" y2="43.1" stroke="#222" stroke-width="0.6" />
<line x1="367.5" y1="42.800000000000004" x2="367.5" y2="44.5" stroke="#111" stroke-width="0.7" />
<line x1="401.5" y1="42.800000000000004" x2="401.5" y2="44.5" stroke="#111" stroke-width="0.7" />
<text transform="translate(371.58 44.800000000000004) scale(0.1000 0.1)" font-size="29.00" text-anchor="middle" font-weight="normal" fill="#333" stroke="#333" stroke-width="1.00" >****</text>
<text transform="translate(389.94 44.800000000000004) scale(0.1000 0.1)" font-size="29.00" text-anchor="middle" font-weight="normal" fill="#333" stroke="#333" stroke-width="1.00" >****</text>
<line x1="374.875" y1="39.75" x2="374.875" y2="44.6" stroke="#222" stroke-width="0.55" />
<line x1="365.2625" y1="85.1" x2="366.8625" y2="85.1" stroke="#dadada" stroke-width="1.3" />
<line x1="365.2625" y1="92.4" x2="366.8625" y2="92.4" stroke="#dadada" stroke-width="1.3" />
<line x1="376.075" y1="85.1" x2="377.675" y2="85.1" stroke="#dadada" stroke-width="1.3" />
<line x1="375.975" y1="92.4" x2="377.775" y2="92.4" stroke="#333" stroke-width="0.55" />
<line x1="376.875" y1="91.5" x2="376.875" y2="93.30000000000001" stroke="#333" stroke-width="0.55" />
<line x1="386.9375" y1="85.1" x2="388.73749999999995" y2="85.1" stroke="#333" stroke-width="0.55" />
<line x1="387.8375" y1="84.19999999999999" x2="387.8375" y2="86.0" stroke="#333" stroke-width="0.55" />
<line x1="387.03749999999997" y1="92.4" x2="388.6375" y2="92.4" stroke="#dadada" stroke-width="1.3" />
<line x1="398.17500000000007" y1="85.1" x2="399.975" y2="85.1" stroke="#333" stroke-width="0.55" />
<line x1="399.07500000000005" y1="84.19999999999999" x2="399.07500000000005" y2="86.0" stroke="#333" stroke-width="0.55" />
<line x1="398.17500000000007" y1="92.4" x2="399.975" y2="92.4" stroke="#333" stroke-width="0.55" />
<line x1="399.07500000000005" y1="91.5" x2="399.07500000000005" y2="93.30000000000001" stroke="#333" stroke-width="0.55" />
<text transform="translate(435.6 32.05) scale(0.1000 0.1)" font-size="54.00" text-anchor="middle" font-weight="normal" fill="#000" stroke="#000" stroke-width="1.40" >CCL3</text>
<rect x="416.00" y="57.90" width="2.75" height="9.85" fill="#c9c9c9" />
<rect x="420.00" y="57.90" width="2.75" height="9.85" fill="#c9c9c9" />
<rect x="426.93" y="56.00" width="2.80" height="11.75" fill="#000000" />
<rect x="431.00" y="45.00" width="2.75" height="22.75" fill="#000000" />
<line x1="432.375" y1="45" x2="432.375" y2="42.5" stroke="#111" stroke-width="0.7" />
<line x1="431.275" y1="42.5" x2="433.475" y2="42.5" stroke="#111" stroke-width="0.6" />
<rect x="438.10" y="59.00" width="2.50" height="8.75" fill="#858585" />
<rect x="441.93" y="56.25" width="2.80" height="11.50" fill="#858585" />
<rect x="449.05" y="61.00" width="2.80" height="6.75" fill="#303030" />
<rect x="453.15" y="56.25" width="2.80" height="11.50" fill="#303030" />
<line x1="413.45000000000005" y1="37.3" x2="413.45000000000005" y2="68.15" stroke="#000" stroke-width="0.9" />
<line x1="413.05000000000007" y1="67.75" x2="457.5" y2="67.75" stroke="#000" stroke-width="0.9" />
<line x1="411.95000000000005" y1="38.3" x2="413.45000000000005" y2="38.3" stroke="#000" stroke-width="0.8" />
<text transform="translate(410.75000000000006 39.599999999999994) scale(0.1000 0.1)" font-size="37.00" text-anchor="end" font-weight="normal" fill="#111" stroke="#111" stroke-width="1.20" >3</text>
<line x1="411.95000000000005" y1="48.1" x2="413.45000000000005" y2="48.1" stroke="#000" stroke-width="0.8" />
<text transform="translate(410.75000000000006 49.4) scale(0.1000 0.1)" font-size="37.00" text-anchor="end" font-weight="normal" fill="#111" stroke="#111" stroke-width="1.20" >2</text>
<line x1="411.95000000000005" y1="57.9" x2="413.45000000000005" y2="57.9" stroke="#000" stroke-width="0.8" />
<text transform="translate(410.75000000000006 59.199999999999996) scale(0.1000 0.1)" font-size="37.00" text-anchor="end" font-weight="normal" fill="#111" stroke="#111" stroke-width="1.20" >1</text>
<line x1="411.95000000000005" y1="67.75" x2="413.45000000000005" y2="67.75" stroke="#000" stroke-width="0.8" />
<text transform="translate(410.75000000000006 69.05) scale(0.1000 0.1)" font-size="37.00" text-anchor="end" font-weight="normal" fill="#111" stroke="#111" stroke-width="1.20" >0</text>
<line x1="417.375" y1="67.75" x2="417.375" y2="69.05" stroke="#222" stroke-width="0.5" />
<text transform="translate(417.58 70.35) rotate(-50) scale(0.1120 0.1)" font-size="36.00" text-anchor="end" font-weight="normal" fill="#333" stroke="#333" stroke-width="1.20" >MM1S</text>
<line x1="421.375" y1="67.75" x2="421.375" y2="69.05" stroke="#222" stroke-width="0.5" />
<text transform="translate(422.38 70.35) rotate(-50) scale(0.1120 0.1)" font-size="36.00" text-anchor="end" font-weight="normal" fill="#333" stroke="#333" stroke-width="1.20" >H929</text>
<line x1="428.325" y1="67.75" x2="428.325" y2="69.05" stroke="#222" stroke-width="0.5" />
<text transform="translate(428.53 70.35) rotate(-50) scale(0.1120 0.1)" font-size="36.00" text-anchor="end" font-weight="normal" fill="#333" stroke="#333" stroke-width="1.20" >MM1S</text>
<line x1="432.375" y1="67.75" x2="432.375" y2="69.05" stroke="#222" stroke-width="0.5" />
<text transform="translate(433.38 70.35) rotate(-50) scale(0.1120 0.1)" font-size="36.00" text-anchor="end" font-weight="normal" fill="#333" stroke="#333" stroke-width="1.20" >H929</text>
<line x1="439.35" y1="67.75" x2="439.35" y2="69.05" stroke="#222" stroke-width="0.5" />
<text transform="translate(439.55 70.35) rotate(-50) scale(0.1120 0.1)" font-size="36.00" text-anchor="end" font-weight="normal" fill="#333" stroke="#333" stroke-width="1.20" >MM1S</text>
<line x1="443.325" y1="67.75" x2="443.325" y2="69.05" stroke="#222" stroke-width="0.5" />
<text transform="translate(444.32 70.35) rotate(-50) scale(0.1120 0.1)" font-size="36.00" text-anchor="end" font-weight="normal" fill="#333" stroke="#333" stroke-width="1.20" >H929</text>
<line x1="450.45" y1="67.75" x2="450.45" y2="69.05" stroke="#222" stroke-width="0.5" />
<text transform="translate(450.65 70.35) rotate(-50) scale(0.1120 0.1)" font-size="36.00" text-anchor="end" font-weight="normal" fill="#333" stroke="#333" stroke-width="1.20" >MM1S</text>
<line x1="454.55" y1="67.75" x2="454.55" y2="69.05" stroke="#222" stroke-width="0.5" />
<text transform="translate(455.55 70.35) rotate(-50) scale(0.1120 0.1)" font-size="36.00" text-anchor="end" font-weight="normal" fill="#333" stroke="#333" stroke-width="1.20" >H929</text>
<line x1="413.75" y1="38.75" x2="450" y2="38.75" stroke="#222" stroke-width="0.6" />
<line x1="413.75" y1="38.45" x2="413.75" y2="40.15" stroke="#111" stroke-width="0.7" />
<line x1="450" y1="38.45" x2="450" y2="40.15" stroke="#111" stroke-width="0.7" />
<text transform="translate(421.725 40.45) scale(0.1000 0.1)" font-size="29.00" text-anchor="middle" font-weight="normal" fill="#333" stroke="#333" stroke-width="1.00" >****</text>
<text transform="translate(440.9375 40.45) scale(0.1000 0.1)" font-size="29.00" text-anchor="middle" font-weight="normal" fill="#333" stroke="#333" stroke-width="1.00" >****</text>
<line x1="421.25" y1="41.5" x2="455.6" y2="41.5" stroke="#222" stroke-width="0.6" />
<line x1="421.25" y1="41.2" x2="421.25" y2="42.9" stroke="#111" stroke-width="0.7" />
<line x1="455.6" y1="41.2" x2="455.6" y2="42.9" stroke="#111" stroke-width="0.7" />
<text transform="translate(425.372 43.2) scale(0.1000 0.1)" font-size="29.00" text-anchor="middle" font-weight="normal" fill="#333" stroke="#333" stroke-width="1.00" >****</text>
<text transform="translate(443.921 43.2) scale(0.1000 0.1)" font-size="29.00" text-anchor="middle" font-weight="normal" fill="#333" stroke="#333" stroke-width="1.00" >****</text>
<line x1="428.325" y1="38.75" x2="428.325" y2="43.0" stroke="#222" stroke-width="0.55" />
<line x1="418.575" y1="85.1" x2="420.175" y2="85.1" stroke="#dadada" stroke-width="1.3" />
<line x1="418.575" y1="92.4" x2="420.175" y2="92.4" stroke="#dadada" stroke-width="1.3" />
<line x1="429.53749999999997" y1="85.1" x2="431.1375" y2="85.1" stroke="#dadada" stroke-width="1.3" />
<line x1="429.4375" y1="92.4" x2="431.23749999999995" y2="92.4" stroke="#333" stroke-width="0.55" />
<line x1="430.3375" y1="91.5" x2="430.3375" y2="93.30000000000001" stroke="#333" stroke-width="0.55" />
<line x1="440.51250000000005" y1="85.1" x2="442.3125" y2="85.1" stroke="#333" stroke-width="0.55" />
<line x1="441.4125" y1="84.19999999999999" x2="441.4125" y2="86.0" stroke="#333" stroke-width="0.55" />
<line x1="440.6125" y1="92.4" x2="442.21250000000003" y2="92.4" stroke="#dadada" stroke-width="1.3" />
<line x1="451.6" y1="85.1" x2="453.4" y2="85.1" stroke="#333" stroke-width="0.55" />
<line x1="452.5" y1="84.19999999999999" x2="452.5" y2="86.0" stroke="#333" stroke-width="0.55" />
<line x1="451.6" y1="92.4" x2="453.4" y2="92.4" stroke="#333" stroke-width="0.55" />
<line x1="452.5" y1="91.5" x2="452.5" y2="93.30000000000001" stroke="#333" stroke-width="0.55" />
<text transform="translate(491 32.05) scale(0.1000 0.1)" font-size="54.00" text-anchor="middle" font-weight="normal" fill="#000" stroke="#000" stroke-width="1.40" >CCL4</text>
<rect x="470.95" y="67.40" width="2.80" height="0.35" fill="#c9c9c9" />
<rect x="474.95" y="67.40" width="2.80" height="0.35" fill="#c9c9c9" />
<rect x="481.70" y="66.60" width="2.80" height="1.15" fill="#000000" />
<rect x="485.95" y="48.10" width="2.80" height="19.65" fill="#000000" />
<line x1="487.35" y1="48.1" x2="487.35" y2="43.1" stroke="#111" stroke-width="0.7" />
<line x1="486.25" y1="43.1" x2="488.45000000000005" y2="43.1" stroke="#111" stroke-width="0.6" />
<rect x="492.85" y="66.90" width="2.75" height="0.85" fill="#858585" />
<rect x="496.95" y="66.20" width="2.80" height="1.55" fill="#858585" />
<rect x="504.10" y="67.00" width="2.75" height="0.75" fill="#303030" />
<rect x="508.20" y="66.00" width="2.80" height="1.75" fill="#303030" />
<line x1="468.45000000000005" y1="37.3" x2="468.45000000000005" y2="68.15" stroke="#000" stroke-width="0.9" />
<line x1="468.05000000000007" y1="67.75" x2="512.5" y2="67.75" stroke="#000" stroke-width="0.9" />
<line x1="466.95000000000005" y1="38.1" x2="468.45000000000005" y2="38.1" stroke="#000" stroke-width="0.8" />
<text transform="translate(465.75000000000006 39.4) scale(0.1000 0.1)" font-size="37.00" text-anchor="end" font-weight="normal" fill="#111" stroke="#111" stroke-width="1.20" >25</text>
<line x1="466.95000000000005" y1="44" x2="468.45000000000005" y2="44" stroke="#000" stroke-width="0.8" />
<text transform="translate(465.75000000000006 45.3) scale(0.1000 0.1)" font-size="37.00" text-anchor="end" font-weight="normal" fill="#111" stroke="#111" stroke-width="1.20" >20</text>
<line x1="466.95000000000005" y1="50" x2="468.45000000000005" y2="50" stroke="#000" stroke-width="0.8" />
<text transform="translate(465.75000000000006 51.3) scale(0.1000 0.1)" font-size="37.00" text-anchor="end" font-weight="normal" fill="#111" stroke="#111" stroke-width="1.20" >15</text>
<line x1="466.95000000000005" y1="56" x2="468.45000000000005" y2="56" stroke="#000" stroke-width="0.8" />
<text transform="translate(465.75000000000006 57.3) scale(0.1000 0.1)" font-size="37.00" text-anchor="end" font-weight="normal" fill="#111" stroke="#111" stroke-width="1.20" >10</text>
<line x1="466.95000000000005" y1="61.9" x2="468.45000000000005" y2="61.9" stroke="#000" stroke-width="0.8" />
<text transform="translate(465.75000000000006 63.199999999999996) scale(0.1000 0.1)" font-size="37.00" text-anchor="end" font-weight="normal" fill="#111" stroke="#111" stroke-width="1.20" >5</text>
<line x1="466.95000000000005" y1="67.75" x2="468.45000000000005" y2="67.75" stroke="#000" stroke-width="0.8" />
<text transform="translate(465.75000000000006 69.05) scale(0.1000 0.1)" font-size="37.00" text-anchor="end" font-weight="normal" fill="#111" stroke="#111" stroke-width="1.20" >0</text>
<line x1="472.35" y1="67.75" x2="472.35" y2="69.05" stroke="#222" stroke-width="0.5" />
<text transform="translate(472.55 70.35) rotate(-50) scale(0.1120 0.1)" font-size="36.00" text-anchor="end" font-weight="normal" fill="#333" stroke="#333" stroke-width="1.20" >MM1S</text>
<line x1="476.35" y1="67.75" x2="476.35" y2="69.05" stroke="#222" stroke-width="0.5" />
<text transform="translate(477.35 70.35) rotate(-50) scale(0.1120 0.1)" font-size="36.00" text-anchor="end" font-weight="normal" fill="#333" stroke="#333" stroke-width="1.20" >H929</text>
<line x1="483.1" y1="67.75" x2="483.1" y2="69.05" stroke="#222" stroke-width="0.5" />
<text transform="translate(483.3 70.35) rotate(-50) scale(0.1120 0.1)" font-size="36.00" text-anchor="end" font-weight="normal" fill="#333" stroke="#333" stroke-width="1.20" >MM1S</text>
<line x1="487.35" y1="67.75" x2="487.35" y2="69.05" stroke="#222" stroke-width="0.5" />
<text transform="translate(488.35 70.35) rotate(-50) scale(0.1120 0.1)" font-size="36.00" text-anchor="end" font-weight="normal" fill="#333" stroke="#333" stroke-width="1.20" >H929</text>
<line x1="494.225" y1="67.75" x2="494.225" y2="69.05" stroke="#222" stroke-width="0.5" />
<text transform="translate(494.43 70.35) rotate(-50) scale(0.1120 0.1)" font-size="36.00" text-anchor="end" font-weight="normal" fill="#333" stroke="#333" stroke-width="1.20" >MM1S</text>
<line x1="498.35" y1="67.75" x2="498.35" y2="69.05" stroke="#222" stroke-width="0.5" />
<text transform="translate(499.35 70.35) rotate(-50) scale(0.1120 0.1)" font-size="36.00" text-anchor="end" font-weight="normal" fill="#333" stroke="#333" stroke-width="1.20" >H929</text>
<line x1="505.475" y1="67.75" x2="505.475" y2="69.05" stroke="#222" stroke-width="0.5" />
<text transform="translate(505.68 70.35) rotate(-50) scale(0.1120 0.1)" font-size="36.00" text-anchor="end" font-weight="normal" fill="#333" stroke="#333" stroke-width="1.20" >MM1S</text>
<line x1="509.6" y1="67.75" x2="509.6" y2="69.05" stroke="#222" stroke-width="0.5" />
<text transform="translate(510.6 70.35) rotate(-50) scale(0.1120 0.1)" font-size="36.00" text-anchor="end" font-weight="normal" fill="#333" stroke="#333" stroke-width="1.20" >H929</text>
<line x1="476.25" y1="43.1" x2="510.6" y2="43.1" stroke="#222" stroke-width="0.6" />
<line x1="476.25" y1="42.800000000000004" x2="476.25" y2="44.5" stroke="#111" stroke-width="0.7" />
<line x1="510.6" y1="42.800000000000004" x2="510.6" y2="44.5" stroke="#111" stroke-width="0.7" />
<text transform="translate(483.807 44.800000000000004) scale(0.1000 0.1)" font-size="29.00" text-anchor="middle" font-weight="normal" fill="#333" stroke="#333" stroke-width="1.00" >****</text>
<text transform="translate(502.01250000000005 44.800000000000004) scale(0.1000 0.1)" font-size="29.00" text-anchor="middle" font-weight="normal" fill="#333" stroke="#333" stroke-width="1.00" >****</text>
<line x1="473.55" y1="85.1" x2="475.15000000000003" y2="85.1" stroke="#dadada" stroke-width="1.3" />
<line x1="473.55" y1="92.4" x2="475.15000000000003" y2="92.4" stroke="#dadada" stroke-width="1.3" />
<line x1="484.425" y1="85.1" x2="486.02500000000003" y2="85.1" stroke="#dadada" stroke-width="1.3" />
<line x1="484.32500000000005" y1="92.4" x2="486.125" y2="92.4" stroke="#333" stroke-width="0.55" />
<line x1="485.225" y1="91.5" x2="485.225" y2="93.30000000000001" stroke="#333" stroke-width="0.55" />
<line x1="495.40000000000003" y1="85.1" x2="497.2" y2="85.1" stroke="#333" stroke-width="0.55" />
<line x1="496.3" y1="84.19999999999999" x2="496.3" y2="86.0" stroke="#333" stroke-width="0.55" />
<line x1="495.5" y1="92.4" x2="497.1" y2="92.4" stroke="#dadada" stroke-width="1.3" />
<line x1="506.65000000000003" y1="85.1" x2="508.45" y2="85.1" stroke="#333" stroke-width="0.55" />
<line x1="507.55" y1="84.19999999999999" x2="507.55" y2="86.0" stroke="#333" stroke-width="0.55" />
<line x1="506.65000000000003" y1="92.4" x2="508.45" y2="92.4" stroke="#333" stroke-width="0.55" />
<line x1="507.55" y1="91.5" x2="507.55" y2="93.30000000000001" stroke="#333" stroke-width="0.55" />
<text transform="translate(50.25 125.05) scale(0.1000 0.1)" font-size="54.00" text-anchor="middle" font-weight="normal" fill="#000" stroke="#000" stroke-width="1.40" >CD44</text>
<rect x="30.28" y="145.80" width="2.80" height="14.95" fill="#c9c9c9" />
<rect x="34.23" y="145.80" width="2.80" height="14.95" fill="#c9c9c9" />
<rect x="41.25" y="138.40" width="2.75" height="22.35" fill="#000000" />
<line x1="42.625" y1="138.4" x2="42.625" y2="137.0" stroke="#111" stroke-width="0.7" />
<line x1="41.525" y1="137.0" x2="43.725" y2="137.0" stroke="#111" stroke-width="0.6" />
<rect x="45.27" y="139.60" width="2.80" height="21.15" fill="#000000" />
<line x1="46.675" y1="139.6" x2="46.675" y2="137.6" stroke="#111" stroke-width="0.7" />
<line x1="45.574999999999996" y1="137.6" x2="47.775" y2="137.6" stroke="#111" stroke-width="0.6" />
<rect x="52.25" y="142.40" width="2.75" height="18.35" fill="#858585" />
<rect x="56.25" y="144.90" width="2.75" height="15.85" fill="#858585" />
<rect x="63.50" y="147.00" width="2.75" height="13.75" fill="#303030" />
<rect x="67.65" y="146.75" width="2.80" height="14.00" fill="#303030" />
<line x1="27.85" y1="130.3" x2="27.85" y2="161.15" stroke="#000" stroke-width="0.9" />
<line x1="27.450000000000003" y1="160.75" x2="72" y2="160.75" stroke="#000" stroke-width="0.9" />
<line x1="26.35" y1="131.1" x2="27.85" y2="131.1" stroke="#000" stroke-width="0.8" />
<text transform="translate(25.150000000000002 132.4) scale(0.1000 0.1)" font-size="37.00" text-anchor="end" font-weight="normal" fill="#111" stroke="#111" stroke-width="1.20" >2.0</text>
<line x1="26.35" y1="138.4" x2="27.85" y2="138.4" stroke="#000" stroke-width="0.8" />
<text transform="translate(25.150000000000002 139.70000000000002) scale(0.1000 0.1)" font-size="37.00" text-anchor="end" font-weight="normal" fill="#111" stroke="#111" stroke-width="1.20" >1.5</text>
<line x1="26.35" y1="145.8" x2="27.85" y2="145.8" stroke="#000" stroke-width="0.8" />
<text transform="translate(25.150000000000002 147.10000000000002) scale(0.1000 0.1)" font-size="37.00" text-anchor="end" font-weight="normal" fill="#111" stroke="#111" stroke-width="1.20" >1.0</text>
<line x1="26.35" y1="153.3" x2="27.85" y2="153.3" stroke="#000" stroke-width="0.8" />
<text transform="translate(25.150000000000002 154.60000000000002) scale(0.1000 0.1)" font-size="37.00" text-anchor="end" font-weight="normal" fill="#111" stroke="#111" stroke-width="1.20" >0.5</text>
<line x1="26.35" y1="160.75" x2="27.85" y2="160.75" stroke="#000" stroke-width="0.8" />
<text transform="translate(25.150000000000002 162.05) scale(0.1000 0.1)" font-size="37.00" text-anchor="end" font-weight="normal" fill="#111" stroke="#111" stroke-width="1.20" >0.0</text>
<line x1="31.675000000000004" y1="160.75" x2="31.675000000000004" y2="162.05" stroke="#222" stroke-width="0.5" />
<text transform="translate(31.88 163.35) rotate(-50) scale(0.1120 0.1)" font-size="36.00" text-anchor="end" font-weight="normal" fill="#333" stroke="#333" stroke-width="1.20" >MM1S</text>
<line x1="35.625" y1="160.75" x2="35.625" y2="162.05" stroke="#222" stroke-width="0.5" />
<text transform="translate(36.62 163.35) rotate(-50) scale(0.1120 0.1)" font-size="36.00" text-anchor="end" font-weight="normal" fill="#333" stroke="#333" stroke-width="1.20" >H929</text>
<line x1="42.625" y1="160.75" x2="42.625" y2="162.05" stroke="#222" stroke-width="0.5" />
<text transform="translate(42.83 163.35) rotate(-50) scale(0.1120 0.1)" font-size="36.00" text-anchor="end" font-weight="normal" fill="#333" stroke="#333" stroke-width="1.20" >MM1S</text>
<line x1="46.675" y1="160.75" x2="46.675" y2="162.05" stroke="#222" stroke-width="0.5" />
<text transform="translate(47.67 163.35) rotate(-50) scale(0.1120 0.1)" font-size="36.00" text-anchor="end" font-weight="normal" fill="#333" stroke="#333" stroke-width="1.20" >H929</text>
<line x1="53.625" y1="160.75" x2="53.625" y2="162.05" stroke="#222" stroke-width="0.5" />
<text transform="translate(53.83 163.35) rotate(-50) scale(0.1120 0.1)" font-size="36.00" text-anchor="end" font-weight="normal" fill="#333" stroke="#333" stroke-width="1.20" >MM1S</text>
<line x1="57.625" y1="160.75" x2="57.625" y2="162.05" stroke="#222" stroke-width="0.5" />
<text transform="translate(58.62 163.35) rotate(-50) scale(0.1120 0.1)" font-size="36.00" text-anchor="end" font-weight="normal" fill="#333" stroke="#333" stroke-width="1.20" >H929</text>
<line x1="64.875" y1="160.75" x2="64.875" y2="162.05" stroke="#222" stroke-width="0.5" />
<text transform="translate(65.07 163.35) rotate(-50) scale(0.1120 0.1)" font-size="36.00" text-anchor="end" font-weight="normal" fill="#333" stroke="#333" stroke-width="1.20" >MM1S</text>
<line x1="69.05" y1="160.75" x2="69.05" y2="162.05" stroke="#222" stroke-width="0.5" />
<text transform="translate(70.05 163.35) rotate(-50) scale(0.1120 0.1)" font-size="36.00" text-anchor="end" font-weight="normal" fill="#333" stroke="#333" stroke-width="1.20" >H929</text>
<line x1="28.5" y1="133.6" x2="64.4" y2="133.6" stroke="#222" stroke-width="0.6" />
<line x1="28.5" y1="133.29999999999998" x2="28.5" y2="135.0" stroke="#111" stroke-width="0.7" />
<line x1="64.4" y1="133.29999999999998" x2="64.4" y2="135.0" stroke="#111" stroke-width="0.7" />
<text transform="translate(36.398 135.29999999999998) scale(0.1000 0.1)" font-size="29.00" text-anchor="middle" font-weight="normal" fill="#333" stroke="#333" stroke-width="1.00" >****</text>
<text transform="translate(55.425000000000004 135.29999999999998) scale(0.1000 0.1)" font-size="29.00" text-anchor="middle" font-weight="normal" fill="#333" stroke="#333" stroke-width="1.00" >****</text>
<line x1="34.75" y1="137.4" x2="69.75" y2="137.4" stroke="#222" stroke-width="0.6" />
<line x1="34.75" y1="137.1" x2="34.75" y2="138.8" stroke="#111" stroke-width="0.7" />
<line x1="69.75" y1="137.1" x2="69.75" y2="138.8" stroke="#111" stroke-width="0.7" />
<text transform="translate(38.95 139.1) scale(0.1000 0.1)" font-size="29.00" text-anchor="middle" font-weight="normal" fill="#333" stroke="#333" stroke-width="1.00" >****</text>
<text transform="translate(57.85 139.1) scale(0.1000 0.1)" font-size="29.00" text-anchor="middle" font-weight="normal" fill="#333" stroke="#333" stroke-width="1.00" >****</text>
<line x1="42.625" y1="133.6" x2="42.625" y2="138.9" stroke="#222" stroke-width="0.55" />
<line x1="32.85" y1="178.1" x2="34.449999999999996" y2="178.1" stroke="#dadada" stroke-width="1.3" />
<line x1="32.85" y1="185.4" x2="34.449999999999996" y2="185.4" stroke="#dadada" stroke-width="1.3" />
<line x1="43.8625" y1="178.1" x2="45.46249999999999" y2="178.1" stroke="#dadada" stroke-width="1.3" />
<line x1="43.762499999999996" y1="185.4" x2="45.56249999999999" y2="185.4" stroke="#333" stroke-width="0.55" />
<line x1="44.662499999999994" y1="184.5" x2="44.662499999999994" y2="186.3" stroke="#333" stroke-width="0.55" />
<line x1="54.725" y1="178.1" x2="56.525" y2="178.1" stroke="#333" stroke-width="0.55" />
<line x1="55.625" y1="177.2" x2="55.625" y2="179.0" stroke="#333" stroke-width="0.55" />
<line x1="54.825" y1="185.4" x2="56.425" y2="185.4" stroke="#dadada" stroke-width="1.3" />
<line x1="66.07499999999999" y1="178.1" x2="67.875" y2="178.1" stroke="#333" stroke-width="0.55" />
<line x1="66.975" y1="177.2" x2="66.975" y2="179.0" stroke="#333" stroke-width="0.55" />
<line x1="66.07499999999999" y1="185.4" x2="67.875" y2="185.4" stroke="#333" stroke-width="0.55" />
<line x1="66.975" y1="184.5" x2="66.975" y2="186.3" stroke="#333" stroke-width="0.55" />
<text transform="translate(104.25 125.05) scale(0.1000 0.1)" font-size="54.00" text-anchor="middle" font-weight="normal" fill="#000" stroke="#000" stroke-width="1.40" >ICAM1</text>
<rect x="84.00" y="157.00" width="2.75" height="3.75" fill="#c9c9c9" />
<rect x="88.00" y="157.00" width="2.75" height="3.75" fill="#c9c9c9" />
<rect x="94.92" y="151.10" width="2.80" height="9.65" fill="#000000" />
<rect x="99.00" y="138.60" width="2.75" height="22.15" fill="#000000" />
<line x1="100.375" y1="138.6" x2="100.375" y2="136.6" stroke="#111" stroke-width="0.7" />
<line x1="99.275" y1="136.6" x2="101.475" y2="136.6" stroke="#111" stroke-width="0.6" />
<rect x="106.15" y="157.00" width="2.80" height="3.75" fill="#858585" />
<rect x="110.25" y="156.50" width="2.50" height="4.25" fill="#858585" />
<rect x="117.42" y="157.00" width="2.80" height="3.75" fill="#303030" />
<rect x="121.50" y="157.00" width="2.75" height="3.75" fill="#303030" />
<line x1="81.85" y1="130.3" x2="81.85" y2="161.15" stroke="#000" stroke-width="0.9" />
<line x1="81.44999999999999" y1="160.75" x2="125.8" y2="160.75" stroke="#000" stroke-width="0.9" />
<line x1="80.35" y1="131.1" x2="81.85" y2="131.1" stroke="#000" stroke-width="0.8" />
<text transform="translate(79.14999999999999 132.4) scale(0.1000 0.1)" font-size="37.00" text-anchor="end" font-weight="normal" fill="#111" stroke="#111" stroke-width="1.20" >8</text>
<line x1="80.35" y1="138.4" x2="81.85" y2="138.4" stroke="#000" stroke-width="0.8" />
<text transform="translate(79.14999999999999 139.70000000000002) scale(0.1000 0.1)" font-size="37.00" text-anchor="end" font-weight="normal" fill="#111" stroke="#111" stroke-width="1.20" >6</text>
<line x1="80.35" y1="145.8" x2="81.85" y2="145.8" stroke="#000" stroke-width="0.8" />
<text transform="translate(79.14999999999999 147.10000000000002) scale(0.1000 0.1)" font-size="37.00" text-anchor="end" font-weight="normal" fill="#111" stroke="#111" stroke-width="1.20" >4</text>
<line x1="80.35" y1="153.3" x2="81.85" y2="153.3" stroke="#000" stroke-width="0.8" />
<text transform="translate(79.14999999999999 154.60000000000002) scale(0.1000 0.1)" font-size="37.00" text-anchor="end" font-weight="normal" fill="#111" stroke="#111" stroke-width="1.20" >2</text>
<line x1="80.35" y1="160.75" x2="81.85" y2="160.75" stroke="#000" stroke-width="0.8" />
<text transform="translate(79.14999999999999 162.05) scale(0.1000 0.1)" font-size="37.00" text-anchor="end" font-weight="normal" fill="#111" stroke="#111" stroke-width="1.20" >0</text>
<line x1="85.375" y1="160.75" x2="85.375" y2="162.05" stroke="#222" stroke-width="0.5" />
<text transform="translate(85.57 163.35) rotate(-50) scale(0.1120 0.1)" font-size="36.00" text-anchor="end" font-weight="normal" fill="#333" stroke="#333" stroke-width="1.20" >MM1S</text>
<line x1="89.375" y1="160.75" x2="89.375" y2="162.05" stroke="#222" stroke-width="0.5" />
<text transform="translate(90.38 163.35) rotate(-50) scale(0.1120 0.1)" font-size="36.00" text-anchor="end" font-weight="normal" fill="#333" stroke="#333" stroke-width="1.20" >H929</text>
<line x1="96.325" y1="160.75" x2="96.325" y2="162.05" stroke="#222" stroke-width="0.5" />
<text transform="translate(96.52 163.35) rotate(-50) scale(0.1120 0.1)" font-size="36.00" text-anchor="end" font-weight="normal" fill="#333" stroke="#333" stroke-width="1.20" >MM1S</text>
<line x1="100.375" y1="160.75" x2="100.375" y2="162.05" stroke="#222" stroke-width="0.5" />
<text transform="translate(101.38 163.35) rotate(-50) scale(0.1120 0.1)" font-size="36.00" text-anchor="end" font-weight="normal" fill="#333" stroke="#333" stroke-width="1.20" >H929</text>
<line x1="107.55" y1="160.75" x2="107.55" y2="162.05" stroke="#222" stroke-width="0.5" />
<text transform="translate(107.75 163.35) rotate(-50) scale(0.1120 0.1)" font-size="36.00" text-anchor="end" font-weight="normal" fill="#333" stroke="#333" stroke-width="1.20" >MM1S</text>
<line x1="111.5" y1="160.75" x2="111.5" y2="162.05" stroke="#222" stroke-width="0.5" />
<text transform="translate(112.5 163.35) rotate(-50) scale(0.1120 0.1)" font-size="36.00" text-anchor="end" font-weight="normal" fill="#333" stroke="#333" stroke-width="1.20" >H929</text>
<line x1="118.825" y1="160.75" x2="118.825" y2="162.05" stroke="#222" stroke-width="0.5" />
<text transform="translate(119.02 163.35) rotate(-50) scale(0.1120 0.1)" font-size="36.00" text-anchor="end" font-weight="normal" fill="#333" stroke="#333" stroke-width="1.20" >MM1S</text>
<line x1="122.875" y1="160.75" x2="122.875" y2="162.05" stroke="#222" stroke-width="0.5" />
<text transform="translate(123.88 163.35) rotate(-50) scale(0.1120 0.1)" font-size="36.00" text-anchor="end" font-weight="normal" fill="#333" stroke="#333" stroke-width="1.20" >H929</text>
<line x1="85.5" y1="133" x2="118.25" y2="133" stroke="#222" stroke-width="0.6" />
<line x1="85.5" y1="132.7" x2="85.5" y2="134.4" stroke="#111" stroke-width="0.7" />
<line x1="118.25" y1="132.7" x2="118.25" y2="134.4" stroke="#111" stroke-width="0.7" />
<text transform="translate(92.705 134.7) scale(0.1000 0.1)" font-size="29.00" text-anchor="middle" font-weight="normal" fill="#333" stroke="#333" stroke-width="1.00" >****</text>
<text transform="translate(110.0625 134.7) scale(0.1000 0.1)" font-size="29.00" text-anchor="middle" font-weight="normal" fill="#333" stroke="#333" stroke-width="1.00" >****</text>
<line x1="89" y1="136.5" x2="123.6" y2="136.5" stroke="#222" stroke-width="0.6" />
<line x1="89" y1="136.2" x2="89" y2="137.9" stroke="#111" stroke-width="0.7" />
<line x1="123.6" y1="136.2" x2="123.6" y2="137.9" stroke="#111" stroke-width="0.7" />
<text transform="translate(93.152 138.2) scale(0.1000 0.1)" font-size="29.00" text-anchor="middle" font-weight="normal" fill="#333" stroke="#333" stroke-width="1.00" >****</text>
<text transform="translate(111.836 138.2) scale(0.1000 0.1)" font-size="29.00" text-anchor="middle" font-weight="normal" fill="#333" stroke="#333" stroke-width="1.00" >****</text>
<line x1="96.325" y1="133" x2="96.325" y2="138.0" stroke="#222" stroke-width="0.55" />
<line x1="86.575" y1="178.1" x2="88.175" y2="178.1" stroke="#dadada" stroke-width="1.3" />
<line x1="86.575" y1="185.4" x2="88.175" y2="185.4" stroke="#dadada" stroke-width="1.3" />
<line x1="97.53750000000001" y1="178.1" x2="99.1375" y2="178.1" stroke="#dadada" stroke-width="1.3" />
<line x1="97.4375" y1="185.4" x2="99.23750000000001" y2="185.4" stroke="#333" stroke-width="0.55" />
<line x1="98.3375" y1="184.5" x2="98.3375" y2="186.3" stroke="#333" stroke-width="0.55" />
<line x1="108.54999999999998" y1="178.1" x2="110.35" y2="178.1" stroke="#333" stroke-width="0.55" />
<line x1="109.44999999999999" y1="177.2" x2="109.44999999999999" y2="179.0" stroke="#333" stroke-width="0.55" />
<line x1="108.64999999999999" y1="185.4" x2="110.24999999999999" y2="185.4" stroke="#dadada" stroke-width="1.3" />
<line x1="119.9375" y1="178.1" x2="121.73750000000001" y2="178.1" stroke="#333" stroke-width="0.55" />
<line x1="120.8375" y1="177.2" x2="120.8375" y2="179.0" stroke="#333" stroke-width="0.55" />
<line x1="119.9375" y1="185.4" x2="121.73750000000001" y2="185.4" stroke="#333" stroke-width="0.55" />
<line x1="120.8375" y1="184.5" x2="120.8375" y2="186.3" stroke="#333" stroke-width="0.55" />
<text transform="translate(159.9 125.05) scale(0.1000 0.1)" font-size="54.00" text-anchor="middle" font-weight="normal" fill="#000" stroke="#000" stroke-width="1.40" >CD31</text>
<rect x="140.25" y="145.80" width="2.75" height="14.95" fill="#c9c9c9" />
<rect x="144.25" y="145.80" width="2.75" height="14.95" fill="#c9c9c9" />
<rect x="151.15" y="137.75" width="2.80" height="23.00" fill="#000000" />
<rect x="155.25" y="138.00" width="2.75" height="22.75" fill="#000000" />
<line x1="156.625" y1="138" x2="156.625" y2="135.6" stroke="#111" stroke-width="0.7" />
<line x1="155.525" y1="135.6" x2="157.725" y2="135.6" stroke="#111" stroke-width="0.6" />
<rect x="162.40" y="144.25" width="2.50" height="16.50" fill="#858585" />
<rect x="166.15" y="144.90" width="2.80" height="15.85" fill="#858585" />
<rect x="173.28" y="147.40" width="2.80" height="13.35" fill="#303030" />
<rect x="177.42" y="147.40" width="2.80" height="13.35" fill="#303030" />
<line x1="137.75" y1="130.3" x2="137.75" y2="161.15" stroke="#000" stroke-width="0.9" />
<line x1="137.35" y1="160.75" x2="181.8" y2="160.75" stroke="#000" stroke-width="0.9" />
<line x1="136.25" y1="131.1" x2="137.75" y2="131.1" stroke="#000" stroke-width="0.8" />
<text transform="translate(135.05 132.4) scale(0.1000 0.1)" font-size="37.00" text-anchor="end" font-weight="normal" fill="#111" stroke="#111" stroke-width="1.20" >2.0</text>
<line x1="136.25" y1="138.4" x2="137.75" y2="138.4" stroke="#000" stroke-width="0.8" />
<text transform="translate(135.05 139.70000000000002) scale(0.1000 0.1)" font-size="37.00" text-anchor="end" font-weight="normal" fill="#111" stroke="#111" stroke-width="1.20" >1.5</text>
<line x1="136.25" y1="145.8" x2="137.75" y2="145.8" stroke="#000" stroke-width="0.8" />
<text transform="translate(135.05 147.10000000000002) scale(0.1000 0.1)" font-size="37.00" text-anchor="end" font-weight="normal" fill="#111" stroke="#111" stroke-width="1.20" >1.0</text>
<line x1="136.25" y1="153.3" x2="137.75" y2="153.3" stroke="#000" stroke-width="0.8" />
<text transform="translate(135.05 154.60000000000002) scale(0.1000 0.1)" font-size="37.00" text-anchor="end" font-weight="normal" fill="#111" stroke="#111" stroke-width="1.20" >0.5</text>
<line x1="136.25" y1="160.75" x2="137.75" y2="160.75" stroke="#000" stroke-width="0.8" />
<text transform="translate(135.05 162.05) scale(0.1000 0.1)" font-size="37.00" text-anchor="end" font-weight="normal" fill="#111" stroke="#111" stroke-width="1.20" >0.0</text>
<line x1="141.625" y1="160.75" x2="141.625" y2="162.05" stroke="#222" stroke-width="0.5" />
<text transform="translate(141.82 163.35) rotate(-50) scale(0.1120 0.1)" font-size="36.00" text-anchor="end" font-weight="normal" fill="#333" stroke="#333" stroke-width="1.20" >MM1S</text>
<line x1="145.625" y1="160.75" x2="145.625" y2="162.05" stroke="#222" stroke-width="0.5" />
<text transform="translate(146.62 163.35) rotate(-50) scale(0.1120 0.1)" font-size="36.00" text-anchor="end" font-weight="normal" fill="#333" stroke="#333" stroke-width="1.20" >H929</text>
<line x1="152.55" y1="160.75" x2="152.55" y2="162.05" stroke="#222" stroke-width="0.5" />
<text transform="translate(152.75 163.35) rotate(-50) scale(0.1120 0.1)" font-size="36.00" text-anchor="end" font-weight="normal" fill="#333" stroke="#333" stroke-width="1.20" >MM1S</text>
<line x1="156.625" y1="160.75" x2="156.625" y2="162.05" stroke="#222" stroke-width="0.5" />
<text transform="translate(157.62 163.35) rotate(-50) scale(0.1120 0.1)" font-size="36.00" text-anchor="end" font-weight="normal" fill="#333" stroke="#333" stroke-width="1.20" >H929</text>
<line x1="163.65" y1="160.75" x2="163.65" y2="162.05" stroke="#222" stroke-width="0.5" />
<text transform="translate(163.85 163.35) rotate(-50) scale(0.1120 0.1)" font-size="36.00" text-anchor="end" font-weight="normal" fill="#333" stroke="#333" stroke-width="1.20" >MM1S</text>
<line x1="167.55" y1="160.75" x2="167.55" y2="162.05" stroke="#222" stroke-width="0.5" />
<text transform="translate(168.55 163.35) rotate(-50) scale(0.1120 0.1)" font-size="36.00" text-anchor="end" font-weight="normal" fill="#333" stroke="#333" stroke-width="1.20" >H929</text>
<line x1="174.675" y1="160.75" x2="174.675" y2="162.05" stroke="#222" stroke-width="0.5" />
<text transform="translate(174.88 163.35) rotate(-50) scale(0.1120 0.1)" font-size="36.00" text-anchor="end" font-weight="normal" fill="#333" stroke="#333" stroke-width="1.20" >MM1S</text>
<line x1="178.825" y1="160.75" x2="178.825" y2="162.05" stroke="#222" stroke-width="0.5" />
<text transform="translate(179.82 163.35) rotate(-50) scale(0.1120 0.1)" font-size="36.00" text-anchor="end" font-weight="normal" fill="#333" stroke="#333" stroke-width="1.20" >H929</text>
<line x1="138" y1="131.1" x2="174.25" y2="131.1" stroke="#222" stroke-width="0.6" />
<line x1="138" y1="130.79999999999998" x2="138" y2="132.5" stroke="#111" stroke-width="0.7" />
<line x1="174.25" y1="130.79999999999998" x2="174.25" y2="132.5" stroke="#111" stroke-width="0.7" />
<text transform="translate(145.975 132.79999999999998) scale(0.1000 0.1)" font-size="29.00" text-anchor="middle" font-weight="normal" fill="#333" stroke="#333" stroke-width="1.00" >****</text>
<text transform="translate(165.1875 132.79999999999998) scale(0.1000 0.1)" font-size="29.00" text-anchor="middle" font-weight="normal" fill="#333" stroke="#333" stroke-width="1.00" >****</text>
<line x1="145.25" y1="134.25" x2="179.9" y2="134.25" stroke="#222" stroke-width="0.6" />
<line x1="145.25" y1="133.95" x2="145.25" y2="135.65" stroke="#111" stroke-width="0.7" />
<line x1="179.9" y1="133.95" x2="179.9" y2="135.65" stroke="#111" stroke-width="0.7" />
<text transform="translate(149.408 135.95) scale(0.1000 0.1)" font-size="29.00" text-anchor="middle" font-weight="normal" fill="#333" stroke="#333" stroke-width="1.00" >****</text>
<text transform="translate(168.119 135.95) scale(0.1000 0.1)" font-size="29.00" text-anchor="middle" font-weight="normal" fill="#333" stroke="#333" stroke-width="1.00" >****</text>
<line x1="152.55" y1="131.1" x2="152.55" y2="135.75" stroke="#222" stroke-width="0.55" />
<line x1="142.825" y1="178.1" x2="144.425" y2="178.1" stroke="#dadada" stroke-width="1.3" />
<line x1="142.825" y1="185.4" x2="144.425" y2="185.4" stroke="#dadada" stroke-width="1.3" />
<line x1="153.77499999999998" y1="178.1" x2="155.375" y2="178.1" stroke="#dadada" stroke-width="1.3" />
<line x1="153.67499999999998" y1="185.4" x2="155.475" y2="185.4" stroke="#333" stroke-width="0.55" />
<line x1="154.575" y1="184.5" x2="154.575" y2="186.3" stroke="#333" stroke-width="0.55" />
<line x1="164.775" y1="178.1" x2="166.57500000000002" y2="178.1" stroke="#333" stroke-width="0.55" />
<line x1="165.675" y1="177.2" x2="165.675" y2="179.0" stroke="#333" stroke-width="0.55" />
<line x1="164.875" y1="185.4" x2="166.47500000000002" y2="185.4" stroke="#dadada" stroke-width="1.3" />
<line x1="175.85" y1="178.1" x2="177.65" y2="178.1" stroke="#333" stroke-width="0.55" />
<line x1="176.75" y1="177.2" x2="176.75" y2="179.0" stroke="#333" stroke-width="0.55" />
<line x1="175.85" y1="185.4" x2="177.65" y2="185.4" stroke="#333" stroke-width="0.55" />
<line x1="176.75" y1="184.5" x2="176.75" y2="186.3" stroke="#333" stroke-width="0.55" />
<text transform="translate(215.75 125.05) scale(0.1000 0.1)" font-size="54.00" text-anchor="middle" font-weight="normal" fill="#000" stroke="#000" stroke-width="1.40" >SDF-1</text>
<rect x="196.10" y="145.80" width="2.50" height="14.95" fill="#c9c9c9" />
<rect x="200.25" y="145.80" width="2.75" height="14.95" fill="#c9c9c9" />
<rect x="207.05" y="133.00" width="2.80" height="27.75" fill="#000000" />
<line x1="208.45" y1="133" x2="208.45" y2="131.8" stroke="#111" stroke-width="0.7" />
<line x1="207.35" y1="131.8" x2="209.54999999999998" y2="131.8" stroke="#111" stroke-width="0.6" />
<rect x="211.15" y="144.90" width="2.80" height="15.85" fill="#000000" />
<line x1="212.55" y1="144.9" x2="212.55" y2="140.6" stroke="#111" stroke-width="0.7" />
<line x1="211.45000000000002" y1="140.6" x2="213.65" y2="140.6" stroke="#111" stroke-width="0.6" />
<rect x="218.28" y="147.40" width="2.80" height="13.35" fill="#858585" />
<line x1="219.675" y1="147.4" x2="219.675" y2="146.4" stroke="#111" stroke-width="0.7" />
<line x1="218.57500000000002" y1="146.4" x2="220.775" y2="146.4" stroke="#111" stroke-width="0.6" />
<rect x="222.40" y="149.00" width="2.50" height="11.75" fill="#858585" />
<line x1="223.65" y1="149" x2="223.65" y2="148.2" stroke="#111" stroke-width="0.7" />
<line x1="222.55" y1="148.2" x2="224.75" y2="148.2" stroke="#111" stroke-width="0.6" />
<rect x="229.25" y="144.25" width="2.75" height="16.50" fill="#303030" />
<line x1="230.625" y1="144.25" x2="230.625" y2="143.2" stroke="#111" stroke-width="0.7" />
<line x1="229.525" y1="143.2" x2="231.725" y2="143.2" stroke="#111" stroke-width="0.6" />
<rect x="233.28" y="146.10" width="2.80" height="14.65" fill="#303030" />
<line x1="193.95" y1="130.3" x2="193.95" y2="161.15" stroke="#000" stroke-width="0.9" />
<line x1="193.54999999999998" y1="160.75" x2="237.8" y2="160.75" stroke="#000" stroke-width="0.9" />
<line x1="192.45" y1="131.1" x2="193.95" y2="131.1" stroke="#000" stroke-width="0.8" />
<text transform="translate(191.25 132.4) scale(0.1000 0.1)" font-size="37.00" text-anchor="end" font-weight="normal" fill="#111" stroke="#111" stroke-width="1.20" >2.0</text>
<line x1="192.45" y1="138.4" x2="193.95" y2="138.4" stroke="#000" stroke-width="0.8" />
<text transform="translate(191.25 139.70000000000002) scale(0.1000 0.1)" font-size="37.00" text-anchor="end" font-weight="normal" fill="#111" stroke="#111" stroke-width="1.20" >1.5</text>
<line x1="192.45" y1="145.8" x2="193.95" y2="145.8" stroke="#000" stroke-width="0.8" />
<text transform="translate(191.25 147.10000000000002) scale(0.1000 0.1)" font-size="37.00" text-anchor="end" font-weight="normal" fill="#111" stroke="#111" stroke-width="1.20" >1.0</text>
<line x1="192.45" y1="153.3" x2="193.95" y2="153.3" stroke="#000" stroke-width="0.8" />
<text transform="translate(191.25 154.60000000000002) scale(0.1000 0.1)" font-size="37.00" text-anchor="end" font-weight="normal" fill="#111" stroke="#111" stroke-width="1.20" >0.5</text>
<line x1="192.45" y1="160.75" x2="193.95" y2="160.75" stroke="#000" stroke-width="0.8" />
<text transform="translate(191.25 162.05) scale(0.1000 0.1)" font-size="37.00" text-anchor="end" font-weight="normal" fill="#111" stroke="#111" stroke-width="1.20" >0.0</text>
<line x1="197.35" y1="160.75" x2="197.35" y2="162.05" stroke="#222" stroke-width="0.5" />
<text transform="translate(197.55 163.35) rotate(-50) scale(0.1120 0.1)" font-size="36.00" text-anchor="end" font-weight="normal" fill="#333" stroke="#333" stroke-width="1.20" >MM1S</text>
<line x1="201.625" y1="160.75" x2="201.625" y2="162.05" stroke="#222" stroke-width="0.5" />
<text transform="translate(202.62 163.35) rotate(-50) scale(0.1120 0.1)" font-size="36.00" text-anchor="end" font-weight="normal" fill="#333" stroke="#333" stroke-width="1.20" >H929</text>
<line x1="208.45" y1="160.75" x2="208.45" y2="162.05" stroke="#222" stroke-width="0.5" />
<text transform="translate(208.65 163.35) rotate(-50) scale(0.1120 0.1)" font-size="36.00" text-anchor="end" font-weight="normal" fill="#333" stroke="#333" stroke-width="1.20" >MM1S</text>
<line x1="212.55" y1="160.75" x2="212.55" y2="162.05" stroke="#222" stroke-width="0.5" />
<text transform="translate(213.55 163.35) rotate(-50) scale(0.1120 0.1)" font-size="36.00" text-anchor="end" font-weight="normal" fill="#333" stroke="#333" stroke-width="1.20" >H929</text>
<line x1="219.675" y1="160.75" x2="219.675" y2="162.05" stroke="#222" stroke-width="0.5" />
<text transform="translate(219.88 163.35) rotate(-50) scale(0.1120 0.1)" font-size="36.00" text-anchor="end" font-weight="normal" fill="#333" stroke="#333" stroke-width="1.20" >MM1S</text>
<line x1="223.65" y1="160.75" x2="223.65" y2="162.05" stroke="#222" stroke-width="0.5" />
<text transform="translate(224.65 163.35) rotate(-50) scale(0.1120 0.1)" font-size="36.00" text-anchor="end" font-weight="normal" fill="#333" stroke="#333" stroke-width="1.20" >H929</text>
<line x1="230.625" y1="160.75" x2="230.625" y2="162.05" stroke="#222" stroke-width="0.5" />
<text transform="translate(230.82 163.35) rotate(-50) scale(0.1120 0.1)" font-size="36.00" text-anchor="end" font-weight="normal" fill="#333" stroke="#333" stroke-width="1.20" >MM1S</text>
<line x1="234.675" y1="160.75" x2="234.675" y2="162.05" stroke="#222" stroke-width="0.5" />
<text transform="translate(235.68 163.35) rotate(-50) scale(0.1120 0.1)" font-size="36.00" text-anchor="end" font-weight="normal" fill="#333" stroke="#333" stroke-width="1.20" >H929</text>
<line x1="194.9" y1="131.5" x2="230.5" y2="131.5" stroke="#222" stroke-width="0.6" />
<line x1="194.9" y1="131.2" x2="194.9" y2="132.9" stroke="#111" stroke-width="0.7" />
<line x1="230.5" y1="131.2" x2="230.5" y2="132.9" stroke="#111" stroke-width="0.7" />
<text transform="translate(202.732 133.2) scale(0.1000 0.1)" font-size="29.00" text-anchor="middle" font-weight="normal" fill="#333" stroke="#333" stroke-width="1.00" >****</text>
<text transform="translate(221.6 133.2) scale(0.1000 0.1)" font-size="29.00" text-anchor="middle" font-weight="normal" fill="#333" stroke="#333" stroke-width="1.00" >****</text>
<line x1="198.75" y1="178.1" x2="200.35000000000002" y2="178.1" stroke="#dadada" stroke-width="1.3" />
<line x1="198.75" y1="185.4" x2="200.35000000000002" y2="185.4" stroke="#dadada" stroke-width="1.3" />
<line x1="209.7" y1="178.1" x2="211.3" y2="178.1" stroke="#dadada" stroke-width="1.3" />
<line x1="209.6" y1="185.4" x2="211.4" y2="185.4" stroke="#333" stroke-width="0.55" />
<line x1="210.5" y1="184.5" x2="210.5" y2="186.3" stroke="#333" stroke-width="0.55" />
<line x1="220.6875" y1="178.1" x2="222.4875" y2="178.1" stroke="#333" stroke-width="0.55" />
<line x1="221.5875" y1="177.2" x2="221.5875" y2="179.0" stroke="#333" stroke-width="0.55" />
<line x1="220.7875" y1="185.4" x2="222.38750000000002" y2="185.4" stroke="#dadada" stroke-width="1.3" />
<line x1="231.76250000000002" y1="178.1" x2="233.56250000000003" y2="178.1" stroke="#333" stroke-width="0.55" />
<line x1="232.66250000000002" y1="177.2" x2="232.66250000000002" y2="179.0" stroke="#333" stroke-width="0.55" />
<line x1="231.76250000000002" y1="185.4" x2="233.56250000000003" y2="185.4" stroke="#333" stroke-width="0.55" />
<line x1="232.66250000000002" y1="184.5" x2="232.66250000000002" y2="186.3" stroke="#333" stroke-width="0.55" />
<text transform="translate(270.75 125.05) scale(0.1000 0.1)" font-size="54.00" text-anchor="middle" font-weight="normal" fill="#000" stroke="#000" stroke-width="1.40" >IL-8</text>
<rect x="251.15" y="154.00" width="2.80" height="6.75" fill="#c9c9c9" />
<rect x="255.25" y="154.00" width="2.75" height="6.75" fill="#c9c9c9" />
<rect x="262.00" y="153.60" width="2.50" height="7.15" fill="#000000" />
<line x1="263.25" y1="153.6" x2="263.25" y2="151.5" stroke="#111" stroke-width="0.7" />
<line x1="262.15" y1="151.5" x2="264.35" y2="151.5" stroke="#111" stroke-width="0.6" />
<rect x="266.15" y="147.40" width="2.80" height="13.35" fill="#000000" />
<rect x="266.15" y="138.25" width="2.80" height="6.35" fill="#000000" />
<line x1="267.55" y1="147.4" x2="267.55" y2="132.9" stroke="#111" stroke-width="0.7" />
<line x1="266.45" y1="132.9" x2="268.65000000000003" y2="132.9" stroke="#111" stroke-width="0.6" />
<rect x="273.25" y="151.10" width="2.50" height="9.65" fill="#858585" />
<line x1="274.5" y1="151.1" x2="274.5" y2="149.3" stroke="#111" stroke-width="0.7" />
<line x1="273.4" y1="149.3" x2="275.6" y2="149.3" stroke="#111" stroke-width="0.6" />
<rect x="277.40" y="154.00" width="2.50" height="6.75" fill="#858585" />
<line x1="278.65" y1="154" x2="278.65" y2="152.4" stroke="#111" stroke-width="0.7" />
<line x1="277.54999999999995" y1="152.4" x2="279.75" y2="152.4" stroke="#111" stroke-width="0.6" />
<rect x="284.25" y="153.60" width="2.75" height="7.15" fill="#303030" />
<line x1="285.625" y1="153.6" x2="285.625" y2="151.5" stroke="#111" stroke-width="0.7" />
<line x1="284.525" y1="151.5" x2="286.725" y2="151.5" stroke="#111" stroke-width="0.6" />
<rect x="288.28" y="154.00" width="2.80" height="6.75" fill="#303030" />
<line x1="289.675" y1="154" x2="289.675" y2="152" stroke="#111" stroke-width="0.7" />
<line x1="288.575" y1="152" x2="290.77500000000003" y2="152" stroke="#111" stroke-width="0.6" />
<line x1="249.35" y1="130.3" x2="249.35" y2="145.20000000000002" stroke="#000" stroke-width="0.9" />
<line x1="249.35" y1="146.4" x2="249.35" y2="161.15" stroke="#000" stroke-width="0.9" />
<line x1="248.15" y1="145.20000000000002" x2="250.54999999999998" y2="145.20000000000002" stroke="#000" stroke-width="0.5" />
<line x1="248.15" y1="146.4" x2="250.54999999999998" y2="146.4" stroke="#000" stroke-width="0.5" />
<line x1="248.95" y1="160.75" x2="292.8" y2="160.75" stroke="#000" stroke-width="0.9" />
<line x1="247.85" y1="131.1" x2="249.35" y2="131.1" stroke="#000" stroke-width="0.8" />
<text transform="translate(246.65 132.4) scale(0.1000 0.1)" font-size="37.00" text-anchor="end" font-weight="normal" fill="#111" stroke="#111" stroke-width="1.20" >10</text>
<line x1="247.85" y1="137.9" x2="249.35" y2="137.9" stroke="#000" stroke-width="0.8" />
<text transform="translate(246.65 139.20000000000002) scale(0.1000 0.1)" font-size="37.00" text-anchor="end" font-weight="normal" fill="#111" stroke="#111" stroke-width="1.20" >8</text>
<line x1="247.85" y1="144.4" x2="249.35" y2="144.4" stroke="#000" stroke-width="0.8" />
<text transform="translate(246.65 145.70000000000002) scale(0.1000 0.1)" font-size="37.00" text-anchor="end" font-weight="normal" fill="#111" stroke="#111" stroke-width="1.20" >6</text>
<line x1="247.85" y1="147.2" x2="249.35" y2="147.2" stroke="#000" stroke-width="0.8" />
<text transform="translate(246.65 148.5) scale(0.1000 0.1)" font-size="37.00" text-anchor="end" font-weight="normal" fill="#111" stroke="#111" stroke-width="1.20" >2</text>
<line x1="247.85" y1="154" x2="249.35" y2="154" stroke="#000" stroke-width="0.8" />
<text transform="translate(246.65 155.3) scale(0.1000 0.1)" font-size="37.00" text-anchor="end" font-weight="normal" fill="#111" stroke="#111" stroke-width="1.20" >1</text>
<line x1="247.85" y1="160.75" x2="249.35" y2="160.75" stroke="#000" stroke-width="0.8" />
<text transform="translate(246.65 162.05) scale(0.1000 0.1)" font-size="37.00" text-anchor="end" font-weight="normal" fill="#111" stroke="#111" stroke-width="1.20" >0</text>
<line x1="252.55" y1="160.75" x2="252.55" y2="162.05" stroke="#222" stroke-width="0.5" />
<text transform="translate(252.75 163.35) rotate(-50) scale(0.1120 0.1)" font-size="36.00" text-anchor="end" font-weight="normal" fill="#333" stroke="#333" stroke-width="1.20" >MM1S</text>
<line x1="256.625" y1="160.75" x2="256.625" y2="162.05" stroke="#222" stroke-width="0.5" />
<text transform="translate(257.62 163.35) rotate(-50) scale(0.1120 0.1)" font-size="36.00" text-anchor="end" font-weight="normal" fill="#333" stroke="#333" stroke-width="1.20" >H929</text>
<line x1="263.25" y1="160.75" x2="263.25" y2="162.05" stroke="#222" stroke-width="0.5" />
<text transform="translate(263.45 163.35) rotate(-50) scale(0.1120 0.1)" font-size="36.00" text-anchor="end" font-weight="normal" fill="#333" stroke="#333" stroke-width="1.20" >MM1S</text>
<line x1="267.55" y1="160.75" x2="267.55" y2="162.05" stroke="#222" stroke-width="0.5" />
<text transform="translate(268.55 163.35) rotate(-50) scale(0.1120 0.1)" font-size="36.00" text-anchor="end" font-weight="normal" fill="#333" stroke="#333" stroke-width="1.20" >H929</text>
<line x1="274.5" y1="160.75" x2="274.5" y2="162.05" stroke="#222" stroke-width="0.5" />
<text transform="translate(274.7 163.35) rotate(-50) scale(0.1120 0.1)" font-size="36.00" text-anchor="end" font-weight="normal" fill="#333" stroke="#333" stroke-width="1.20" >MM1S</text>
<line x1="278.65" y1="160.75" x2="278.65" y2="162.05" stroke="#222" stroke-width="0.5" />
<text transform="translate(279.65 163.35) rotate(-50) scale(0.1120 0.1)" font-size="36.00" text-anchor="end" font-weight="normal" fill="#333" stroke="#333" stroke-width="1.20" >H929</text>
<line x1="285.625" y1="160.75" x2="285.625" y2="162.05" stroke="#222" stroke-width="0.5" />
<text transform="translate(285.83 163.35) rotate(-50) scale(0.1120 0.1)" font-size="36.00" text-anchor="end" font-weight="normal" fill="#333" stroke="#333" stroke-width="1.20" >MM1S</text>
<line x1="289.675" y1="160.75" x2="289.675" y2="162.05" stroke="#222" stroke-width="0.5" />
<text transform="translate(290.68 163.35) rotate(-50) scale(0.1120 0.1)" font-size="36.00" text-anchor="end" font-weight="normal" fill="#333" stroke="#333" stroke-width="1.20" >H929</text>
<line x1="255.5" y1="131.5" x2="289.5" y2="131.5" stroke="#222" stroke-width="0.6" />
<line x1="255.5" y1="131.2" x2="255.5" y2="132.9" stroke="#111" stroke-width="0.7" />
<line x1="289.5" y1="131.2" x2="289.5" y2="132.9" stroke="#111" stroke-width="0.7" />
<text transform="translate(262.98 133.2) scale(0.1000 0.1)" font-size="29.00" text-anchor="middle" font-weight="normal" fill="#333" stroke="#333" stroke-width="1.00" >****</text>
<text transform="translate(281.0 133.2) scale(0.1000 0.1)" font-size="29.00" text-anchor="middle" font-weight="normal" fill="#333" stroke="#333" stroke-width="1.00" >****</text>
<line x1="253.77499999999998" y1="178.1" x2="255.375" y2="178.1" stroke="#dadada" stroke-width="1.3" />
<line x1="253.77499999999998" y1="185.4" x2="255.375" y2="185.4" stroke="#dadada" stroke-width="1.3" />
<line x1="264.675" y1="178.1" x2="266.27500000000003" y2="178.1" stroke="#dadada" stroke-width="1.3" />
<line x1="264.57500000000005" y1="185.4" x2="266.375" y2="185.4" stroke="#333" stroke-width="0.55" />
<line x1="265.475" y1="184.5" x2="265.475" y2="186.3" stroke="#333" stroke-width="0.55" />
<line x1="275.675" y1="178.1" x2="277.47499999999997" y2="178.1" stroke="#333" stroke-width="0.55" />
<line x1="276.575" y1="177.2" x2="276.575" y2="179.0" stroke="#333" stroke-width="0.55" />
<line x1="275.775" y1="185.4" x2="277.375" y2="185.4" stroke="#dadada" stroke-width="1.3" />
<line x1="286.76250000000005" y1="178.1" x2="288.5625" y2="178.1" stroke="#333" stroke-width="0.55" />
<line x1="287.6625" y1="177.2" x2="287.6625" y2="179.0" stroke="#333" stroke-width="0.55" />
<line x1="286.76250000000005" y1="185.4" x2="288.5625" y2="185.4" stroke="#333" stroke-width="0.55" />
<line x1="287.6625" y1="184.5" x2="287.6625" y2="186.3" stroke="#333" stroke-width="0.55" />
<text transform="translate(326.9 125.05) scale(0.1000 0.1)" font-size="54.00" text-anchor="middle" font-weight="normal" fill="#000" stroke="#000" stroke-width="1.40" >VEGFA</text>
<rect x="306.93" y="144.40" width="2.80" height="16.35" fill="#c9c9c9" />
<rect x="311.00" y="144.40" width="2.75" height="16.35" fill="#c9c9c9" />
<rect x="317.78" y="142.00" width="2.80" height="18.75" fill="#000000" />
<rect x="321.93" y="136.75" width="2.80" height="24.00" fill="#000000" />
<line x1="323.325" y1="136.75" x2="323.325" y2="134.4" stroke="#111" stroke-width="0.7" />
<line x1="322.22499999999997" y1="134.4" x2="324.425" y2="134.4" stroke="#111" stroke-width="0.6" />
<rect x="329.00" y="144.25" width="2.50" height="16.50" fill="#858585" />
<rect x="333.15" y="142.75" width="2.80" height="18.00" fill="#858585" />
<line x1="334.55" y1="142.75" x2="334.55" y2="141.9" stroke="#111" stroke-width="0.7" />
<line x1="333.45" y1="141.9" x2="335.65000000000003" y2="141.9" stroke="#111" stroke-width="0.6" />
<rect x="340.00" y="144.90" width="2.75" height="15.85" fill="#303030" />
<rect x="344.05" y="143.60" width="2.80" height="17.15" fill="#303030" />
<line x1="345.45" y1="143.6" x2="345.45" y2="142.9" stroke="#111" stroke-width="0.7" />
<line x1="344.34999999999997" y1="142.9" x2="346.55" y2="142.9" stroke="#111" stroke-width="0.6" />
<line x1="305.1" y1="130.0" x2="305.1" y2="161.15" stroke="#000" stroke-width="0.9" />
<line x1="304.70000000000005" y1="160.75" x2="348.5" y2="160.75" stroke="#000" stroke-width="0.9" />
<line x1="303.6" y1="136.5" x2="305.1" y2="136.5" stroke="#000" stroke-width="0.8" />
<text transform="translate(302.40000000000003 137.8) scale(0.1000 0.1)" font-size="37.00" text-anchor="end" font-weight="normal" fill="#111" stroke="#111" stroke-width="1.20" >1.5</text>
<line x1="303.6" y1="144.4" x2="305.1" y2="144.4" stroke="#000" stroke-width="0.8" />
<text transform="translate(302.40000000000003 145.70000000000002) scale(0.1000 0.1)" font-size="37.00" text-anchor="end" font-weight="normal" fill="#111" stroke="#111" stroke-width="1.20" >1.0</text>
<line x1="303.6" y1="152.6" x2="305.1" y2="152.6" stroke="#000" stroke-width="0.8" />
<text transform="translate(302.40000000000003 153.9) scale(0.1000 0.1)" font-size="37.00" text-anchor="end" font-weight="normal" fill="#111" stroke="#111" stroke-width="1.20" >0.5</text>
<line x1="303.6" y1="160.75" x2="305.1" y2="160.75" stroke="#000" stroke-width="0.8" />
<text transform="translate(302.40000000000003 162.05) scale(0.1000 0.1)" font-size="37.00" text-anchor="end" font-weight="normal" fill="#111" stroke="#111" stroke-width="1.20" >0.0</text>
<line x1="308.325" y1="160.75" x2="308.325" y2="162.05" stroke="#222" stroke-width="0.5" />
<text transform="translate(308.53 163.35) rotate(-50) scale(0.1120 0.1)" font-size="36.00" text-anchor="end" font-weight="normal" fill="#333" stroke="#333" stroke-width="1.20" >MM1S</text>
<line x1="312.375" y1="160.75" x2="312.375" y2="162.05" stroke="#222" stroke-width="0.5" />
<text transform="translate(313.38 163.35) rotate(-50) scale(0.1120 0.1)" font-size="36.00" text-anchor="end" font-weight="normal" fill="#333" stroke="#333" stroke-width="1.20" >H929</text>
<line x1="319.175" y1="160.75" x2="319.175" y2="162.05" stroke="#222" stroke-width="0.5" />
<text transform="translate(319.38 163.35) rotate(-50) scale(0.1120 0.1)" font-size="36.00" text-anchor="end" font-weight="normal" fill="#333" stroke="#333" stroke-width="1.20" >MM1S</text>
<line x1="323.325" y1="160.75" x2="323.325" y2="162.05" stroke="#222" stroke-width="0.5" />
<text transform="translate(324.32 163.35) rotate(-50) scale(0.1120 0.1)" font-size="36.00" text-anchor="end" font-weight="normal" fill="#333" stroke="#333" stroke-width="1.20" >H929</text>
<line x1="330.25" y1="160.75" x2="330.25" y2="162.05" stroke="#222" stroke-width="0.5" />
<text transform="translate(330.45 163.35) rotate(-50) scale(0.1120 0.1)" font-size="36.00" text-anchor="end" font-weight="normal" fill="#333" stroke="#333" stroke-width="1.20" >MM1S</text>
<line x1="334.55" y1="160.75" x2="334.55" y2="162.05" stroke="#222" stroke-width="0.5" />
<text transform="translate(335.55 163.35) rotate(-50) scale(0.1120 0.1)" font-size="36.00" text-anchor="end" font-weight="normal" fill="#333" stroke="#333" stroke-width="1.20" >H929</text>
<line x1="341.375" y1="160.75" x2="341.375" y2="162.05" stroke="#222" stroke-width="0.5" />
<text transform="translate(341.58 163.35) rotate(-50) scale(0.1120 0.1)" font-size="36.00" text-anchor="end" font-weight="normal" fill="#333" stroke="#333" stroke-width="1.20" >MM1S</text>
<line x1="345.45" y1="160.75" x2="345.45" y2="162.05" stroke="#222" stroke-width="0.5" />
<text transform="translate(346.45 163.35) rotate(-50) scale(0.1120 0.1)" font-size="36.00" text-anchor="end" font-weight="normal" fill="#333" stroke="#333" stroke-width="1.20" >H929</text>
<line x1="319.75" y1="131.1" x2="340.6" y2="131.1" stroke="#222" stroke-width="0.6" />
<line x1="319.75" y1="130.79999999999998" x2="319.75" y2="132.5" stroke="#111" stroke-width="0.7" />
<line x1="340.6" y1="130.79999999999998" x2="340.6" y2="132.5" stroke="#111" stroke-width="0.7" />
<text transform="translate(324.337 132.79999999999998) scale(0.1000 0.1)" font-size="29.00" text-anchor="middle" font-weight="normal" fill="#333" stroke="#333" stroke-width="1.00" >****</text>
<text transform="translate(335.38750000000005 132.79999999999998) scale(0.1000 0.1)" font-size="29.00" text-anchor="middle" font-weight="normal" fill="#333" stroke="#333" stroke-width="1.00" >****</text>
<line x1="311.25" y1="134" x2="345.6" y2="134" stroke="#222" stroke-width="0.6" />
<line x1="311.25" y1="133.7" x2="311.25" y2="135.4" stroke="#111" stroke-width="0.7" />
<line x1="345.6" y1="133.7" x2="345.6" y2="135.4" stroke="#111" stroke-width="0.7" />
<text transform="translate(315.372 135.7) scale(0.1000 0.1)" font-size="29.00" text-anchor="middle" font-weight="normal" fill="#333" stroke="#333" stroke-width="1.00" >****</text>
<text transform="translate(333.921 135.7) scale(0.1000 0.1)" font-size="29.00" text-anchor="middle" font-weight="normal" fill="#333" stroke="#333" stroke-width="1.00" >****</text>
<line x1="319.175" y1="131.1" x2="319.175" y2="135.5" stroke="#222" stroke-width="0.55" />
<line x1="309.53749999999997" y1="178.1" x2="311.1375" y2="178.1" stroke="#dadada" stroke-width="1.3" />
<line x1="309.53749999999997" y1="185.4" x2="311.1375" y2="185.4" stroke="#dadada" stroke-width="1.3" />
<line x1="320.45" y1="178.1" x2="322.05" y2="178.1" stroke="#dadada" stroke-width="1.3" />
<line x1="320.35" y1="185.4" x2="322.15" y2="185.4" stroke="#333" stroke-width="0.55" />
<line x1="321.25" y1="184.5" x2="321.25" y2="186.3" stroke="#333" stroke-width="0.55" />
<line x1="331.57500000000005" y1="178.1" x2="333.375" y2="178.1" stroke="#333" stroke-width="0.55" />
<line x1="332.475" y1="177.2" x2="332.475" y2="179.0" stroke="#333" stroke-width="0.55" />
<line x1="331.675" y1="185.4" x2="333.27500000000003" y2="185.4" stroke="#dadada" stroke-width="1.3" />
<line x1="342.525" y1="178.1" x2="344.32499999999993" y2="178.1" stroke="#333" stroke-width="0.55" />
<line x1="343.42499999999995" y1="177.2" x2="343.42499999999995" y2="179.0" stroke="#333" stroke-width="0.55" />
<line x1="342.525" y1="185.4" x2="344.32499999999993" y2="185.4" stroke="#333" stroke-width="0.55" />
<line x1="343.42499999999995" y1="184.5" x2="343.42499999999995" y2="186.3" stroke="#333" stroke-width="0.55" />
<text transform="translate(380.1 125.05) scale(0.1000 0.1)" font-size="54.00" text-anchor="middle" font-weight="normal" fill="#000" stroke="#000" stroke-width="1.40" >IL-10</text>
<rect x="360.75" y="150.75" width="2.75" height="10.00" fill="#c9c9c9" />
<rect x="364.78" y="150.75" width="2.80" height="10.00" fill="#c9c9c9" />
<rect x="371.75" y="142.00" width="2.50" height="18.75" fill="#000000" />
<rect x="375.75" y="141.10" width="2.75" height="19.65" fill="#000000" />
<rect x="383.00" y="149.90" width="2.50" height="10.85" fill="#858585" />
<rect x="387.00" y="150.50" width="2.75" height="10.25" fill="#858585" />
<rect x="393.93" y="151.50" width="2.80" height="9.25" fill="#303030" />
<rect x="398.00" y="149.90" width="2.75" height="10.85" fill="#303030" />
<line x1="358.85" y1="130.0" x2="358.85" y2="161.15" stroke="#000" stroke-width="0.9" />
<line x1="358.45000000000005" y1="160.75" x2="402.3" y2="160.75" stroke="#000" stroke-width="0.9" />
<line x1="357.35" y1="131.1" x2="358.85" y2="131.1" stroke="#000" stroke-width="0.8" />
<text transform="translate(356.15000000000003 132.4) scale(0.1000 0.1)" font-size="37.00" text-anchor="end" font-weight="normal" fill="#111" stroke="#111" stroke-width="1.20" >3</text>
<line x1="357.35" y1="140.8" x2="358.85" y2="140.8" stroke="#000" stroke-width="0.8" />
<text transform="translate(356.15000000000003 142.10000000000002) scale(0.1000 0.1)" font-size="37.00" text-anchor="end" font-weight="normal" fill="#111" stroke="#111" stroke-width="1.20" >2</text>
<line x1="357.35" y1="150.8" x2="358.85" y2="150.8" stroke="#000" stroke-width="0.8" />
<text transform="translate(356.15000000000003 152.10000000000002) scale(0.1000 0.1)" font-size="37.00" text-anchor="end" font-weight="normal" fill="#111" stroke="#111" stroke-width="1.20" >1</text>
<line x1="357.35" y1="160.75" x2="358.85" y2="160.75" stroke="#000" stroke-width="0.8" />
<text transform="translate(356.15000000000003 162.05) scale(0.1000 0.1)" font-size="37.00" text-anchor="end" font-weight="normal" fill="#111" stroke="#111" stroke-width="1.20" >0</text>
<line x1="362.125" y1="160.75" x2="362.125" y2="162.05" stroke="#222" stroke-width="0.5" />
<text transform="translate(362.33 163.35) rotate(-50) scale(0.1120 0.1)" font-size="36.00" text-anchor="end" font-weight="normal" fill="#333" stroke="#333" stroke-width="1.20" >MM1S</text>
<line x1="366.175" y1="160.75" x2="366.175" y2="162.05" stroke="#222" stroke-width="0.5" />
<text transform="translate(367.18 163.35) rotate(-50) scale(0.1120 0.1)" font-size="36.00" text-anchor="end" font-weight="normal" fill="#333" stroke="#333" stroke-width="1.20" >H929</text>
<line x1="373.0" y1="160.75" x2="373.0" y2="162.05" stroke="#222" stroke-width="0.5" />
<text transform="translate(373.2 163.35) rotate(-50) scale(0.1120 0.1)" font-size="36.00" text-anchor="end" font-weight="normal" fill="#333" stroke="#333" stroke-width="1.20" >MM1S</text>
<line x1="377.125" y1="160.75" x2="377.125" y2="162.05" stroke="#222" stroke-width="0.5" />
<text transform="translate(378.12 163.35) rotate(-50) scale(0.1120 0.1)" font-size="36.00" text-anchor="end" font-weight="normal" fill="#333" stroke="#333" stroke-width="1.20" >H929</text>
<line x1="384.25" y1="160.75" x2="384.25" y2="162.05" stroke="#222" stroke-width="0.5" />
<text transform="translate(384.45 163.35) rotate(-50) scale(0.1120 0.1)" font-size="36.00" text-anchor="end" font-weight="normal" fill="#333" stroke="#333" stroke-width="1.20" >MM1S</text>
<line x1="388.375" y1="160.75" x2="388.375" y2="162.05" stroke="#222" stroke-width="0.5" />
<text transform="translate(389.38 163.35) rotate(-50) scale(0.1120 0.1)" font-size="36.00" text-anchor="end" font-weight="normal" fill="#333" stroke="#333" stroke-width="1.20" >H929</text>
<line x1="395.325" y1="160.75" x2="395.325" y2="162.05" stroke="#222" stroke-width="0.5" />
<text transform="translate(395.53 163.35) rotate(-50) scale(0.1120 0.1)" font-size="36.00" text-anchor="end" font-weight="normal" fill="#333" stroke="#333" stroke-width="1.20" >MM1S</text>
<line x1="399.375" y1="160.75" x2="399.375" y2="162.05" stroke="#222" stroke-width="0.5" />
<text transform="translate(400.38 163.35) rotate(-50) scale(0.1120 0.1)" font-size="36.00" text-anchor="end" font-weight="normal" fill="#333" stroke="#333" stroke-width="1.20" >H929</text>
<line x1="359.25" y1="134.25" x2="394.5" y2="134.25" stroke="#222" stroke-width="0.6" />
<line x1="359.25" y1="133.95" x2="359.25" y2="135.65" stroke="#111" stroke-width="0.7" />
<line x1="394.5" y1="133.95" x2="394.5" y2="135.65" stroke="#111" stroke-width="0.7" />
<text transform="translate(367.005 135.95) scale(0.1000 0.1)" font-size="29.00" text-anchor="middle" font-weight="normal" fill="#333" stroke="#333" stroke-width="1.00" >****</text>
<text transform="translate(385.6875 135.95) scale(0.1000 0.1)" font-size="29.00" text-anchor="middle" font-weight="normal" fill="#333" stroke="#333" stroke-width="1.00" >****</text>
<line x1="365.5" y1="137.4" x2="399.5" y2="137.4" stroke="#222" stroke-width="0.6" />
<line x1="365.5" y1="137.1" x2="365.5" y2="138.8" stroke="#111" stroke-width="0.7" />
<line x1="399.5" y1="137.1" x2="399.5" y2="138.8" stroke="#111" stroke-width="0.7" />
<text transform="translate(369.58 139.1) scale(0.1000 0.1)" font-size="29.00" text-anchor="middle" font-weight="normal" fill="#333" stroke="#333" stroke-width="1.00" >****</text>
<text transform="translate(387.94 139.1) scale(0.1000 0.1)" font-size="29.00" text-anchor="middle" font-weight="normal" fill="#333" stroke="#333" stroke-width="1.00" >****</text>
<line x1="373.0" y1="134.25" x2="373.0" y2="138.9" stroke="#222" stroke-width="0.55" />
<line x1="363.3625" y1="178.1" x2="364.96250000000003" y2="178.1" stroke="#dadada" stroke-width="1.3" />
<line x1="363.3625" y1="185.4" x2="364.96250000000003" y2="185.4" stroke="#dadada" stroke-width="1.3" />
<line x1="374.325" y1="178.1" x2="375.925" y2="178.1" stroke="#dadada" stroke-width="1.3" />
<line x1="374.225" y1="185.4" x2="376.025" y2="185.4" stroke="#333" stroke-width="0.55" />
<line x1="375.125" y1="184.5" x2="375.125" y2="186.3" stroke="#333" stroke-width="0.55" />
<line x1="385.475" y1="178.1" x2="387.275" y2="178.1" stroke="#333" stroke-width="0.55" />
<line x1="386.375" y1="177.2" x2="386.375" y2="179.0" stroke="#333" stroke-width="0.55" />
<line x1="385.575" y1="185.4" x2="387.175" y2="185.4" stroke="#dadada" stroke-width="1.3" />
<line x1="396.4375" y1="178.1" x2="398.23749999999995" y2="178.1" stroke="#333" stroke-width="0.55" />
<line x1="397.3375" y1="177.2" x2="397.3375" y2="179.0" stroke="#333" stroke-width="0.55" />
<line x1="396.4375" y1="185.4" x2="398.23749999999995" y2="185.4" stroke="#333" stroke-width="0.55" />
<line x1="397.3375" y1="184.5" x2="397.3375" y2="186.3" stroke="#333" stroke-width="0.55" />
<text transform="translate(436.4 125.05) scale(0.1000 0.1)" font-size="54.00" text-anchor="middle" font-weight="normal" fill="#000" stroke="#000" stroke-width="1.40" >TGF&#946;1</text>
<rect x="416.43" y="145.80" width="2.80" height="14.95" fill="#c9c9c9" />
<rect x="420.50" y="145.80" width="2.75" height="14.95" fill="#c9c9c9" />
<rect x="427.25" y="137.75" width="2.50" height="23.00" fill="#000000" />
<rect x="431.43" y="137.00" width="2.80" height="23.75" fill="#000000" />
<rect x="438.50" y="147.00" width="2.50" height="13.75" fill="#858585" />
<rect x="442.60" y="146.10" width="2.50" height="14.65" fill="#858585" />
<rect x="449.75" y="148.00" width="2.50" height="12.75" fill="#303030" />
<rect x="453.93" y="147.00" width="2.80" height="13.75" fill="#303030" />
<line x1="414.6" y1="130.3" x2="414.6" y2="161.15" stroke="#000" stroke-width="0.9" />
<line x1="414.20000000000005" y1="160.75" x2="458.3" y2="160.75" stroke="#000" stroke-width="0.9" />
<line x1="413.1" y1="131.1" x2="414.6" y2="131.1" stroke="#000" stroke-width="0.8" />
<text transform="translate(411.90000000000003 132.4) scale(0.1000 0.1)" font-size="37.00" text-anchor="end" font-weight="normal" fill="#111" stroke="#111" stroke-width="1.20" >2.0</text>
<line x1="413.1" y1="138.4" x2="414.6" y2="138.4" stroke="#000" stroke-width="0.8" />
<text transform="translate(411.90000000000003 139.70000000000002) scale(0.1000 0.1)" font-size="37.00" text-anchor="end" font-weight="normal" fill="#111" stroke="#111" stroke-width="1.20" >1.5</text>
<line x1="413.1" y1="145.8" x2="414.6" y2="145.8" stroke="#000" stroke-width="0.8" />
<text transform="translate(411.90000000000003 147.10000000000002) scale(0.1000 0.1)" font-size="37.00" text-anchor="end" font-weight="normal" fill="#111" stroke="#111" stroke-width="1.20" >1.0</text>
<line x1="413.1" y1="153.3" x2="414.6" y2="153.3" stroke="#000" stroke-width="0.8" />
<text transform="translate(411.90000000000003 154.60000000000002) scale(0.1000 0.1)" font-size="37.00" text-anchor="end" font-weight="normal" fill="#111" stroke="#111" stroke-width="1.20" >0.5</text>
<line x1="413.1" y1="160.75" x2="414.6" y2="160.75" stroke="#000" stroke-width="0.8" />
<text transform="translate(411.90000000000003 162.05) scale(0.1000 0.1)" font-size="37.00" text-anchor="end" font-weight="normal" fill="#111" stroke="#111" stroke-width="1.20" >0.0</text>
<line x1="417.825" y1="160.75" x2="417.825" y2="162.05" stroke="#222" stroke-width="0.5" />
<text transform="translate(418.03 163.35) rotate(-50) scale(0.1120 0.1)" font-size="36.00" text-anchor="end" font-weight="normal" fill="#333" stroke="#333" stroke-width="1.20" >MM1S</text>
<line x1="421.875" y1="160.75" x2="421.875" y2="162.05" stroke="#222" stroke-width="0.5" />
<text transform="translate(422.88 163.35) rotate(-50) scale(0.1120 0.1)" font-size="36.00" text-anchor="end" font-weight="normal" fill="#333" stroke="#333" stroke-width="1.20" >H929</text>
<line x1="428.5" y1="160.75" x2="428.5" y2="162.05" stroke="#222" stroke-width="0.5" />
<text transform="translate(428.7 163.35) rotate(-50) scale(0.1120 0.1)" font-size="36.00" text-anchor="end" font-weight="normal" fill="#333" stroke="#333" stroke-width="1.20" >MM1S</text>
<line x1="432.825" y1="160.75" x2="432.825" y2="162.05" stroke="#222" stroke-width="0.5" />
<text transform="translate(433.82 163.35) rotate(-50) scale(0.1120 0.1)" font-size="36.00" text-anchor="end" font-weight="normal" fill="#333" stroke="#333" stroke-width="1.20" >H929</text>
<line x1="439.75" y1="160.75" x2="439.75" y2="162.05" stroke="#222" stroke-width="0.5" />
<text transform="translate(439.95 163.35) rotate(-50) scale(0.1120 0.1)" font-size="36.00" text-anchor="end" font-weight="normal" fill="#333" stroke="#333" stroke-width="1.20" >MM1S</text>
<line x1="443.85" y1="160.75" x2="443.85" y2="162.05" stroke="#222" stroke-width="0.5" />
<text transform="translate(444.85 163.35) rotate(-50) scale(0.1120 0.1)" font-size="36.00" text-anchor="end" font-weight="normal" fill="#333" stroke="#333" stroke-width="1.20" >H929</text>
<line x1="451.0" y1="160.75" x2="451.0" y2="162.05" stroke="#222" stroke-width="0.5" />
<text transform="translate(451.2 163.35) rotate(-50) scale(0.1120 0.1)" font-size="36.00" text-anchor="end" font-weight="normal" fill="#333" stroke="#333" stroke-width="1.20" >MM1S</text>
<line x1="455.325" y1="160.75" x2="455.325" y2="162.05" stroke="#222" stroke-width="0.5" />
<text transform="translate(456.32 163.35) rotate(-50) scale(0.1120 0.1)" font-size="36.00" text-anchor="end" font-weight="normal" fill="#333" stroke="#333" stroke-width="1.20" >H929</text>
<line x1="415.1" y1="133" x2="451.4" y2="133" stroke="#222" stroke-width="0.6" />
<line x1="415.1" y1="132.7" x2="415.1" y2="134.4" stroke="#111" stroke-width="0.7" />
<line x1="451.4" y1="132.7" x2="451.4" y2="134.4" stroke="#111" stroke-width="0.7" />
<text transform="translate(423.086 134.7) scale(0.1000 0.1)" font-size="29.00" text-anchor="middle" font-weight="normal" fill="#333" stroke="#333" stroke-width="1.00" >****</text>
<text transform="translate(442.325 134.7) scale(0.1000 0.1)" font-size="29.00" text-anchor="middle" font-weight="normal" fill="#333" stroke="#333" stroke-width="1.00" >****</text>
<line x1="421.4" y1="136.1" x2="455.75" y2="136.1" stroke="#222" stroke-width="0.6" />
<line x1="421.4" y1="135.79999999999998" x2="421.4" y2="137.5" stroke="#111" stroke-width="0.7" />
<line x1="455.75" y1="135.79999999999998" x2="455.75" y2="137.5" stroke="#111" stroke-width="0.7" />
<text transform="translate(425.522 137.79999999999998) scale(0.1000 0.1)" font-size="29.00" text-anchor="middle" font-weight="normal" fill="#333" stroke="#333" stroke-width="1.00" >****</text>
<text transform="translate(444.07099999999997 137.79999999999998) scale(0.1000 0.1)" font-size="29.00" text-anchor="middle" font-weight="normal" fill="#333" stroke="#333" stroke-width="1.00" >****</text>
<line x1="428.5" y1="133" x2="428.5" y2="137.6" stroke="#222" stroke-width="0.55" />
<line x1="419.03749999999997" y1="178.1" x2="420.6375" y2="178.1" stroke="#dadada" stroke-width="1.3" />
<line x1="419.03749999999997" y1="185.4" x2="420.6375" y2="185.4" stroke="#dadada" stroke-width="1.3" />
<line x1="429.93749999999994" y1="178.1" x2="431.53749999999997" y2="178.1" stroke="#dadada" stroke-width="1.3" />
<line x1="429.8375" y1="185.4" x2="431.63749999999993" y2="185.4" stroke="#333" stroke-width="0.55" />
<line x1="430.73749999999995" y1="184.5" x2="430.73749999999995" y2="186.3" stroke="#333" stroke-width="0.55" />
<line x1="440.90000000000003" y1="178.1" x2="442.7" y2="178.1" stroke="#333" stroke-width="0.55" />
<line x1="441.8" y1="177.2" x2="441.8" y2="179.0" stroke="#333" stroke-width="0.55" />
<line x1="441.0" y1="185.4" x2="442.6" y2="185.4" stroke="#dadada" stroke-width="1.3" />
<line x1="452.3375" y1="178.1" x2="454.13749999999993" y2="178.1" stroke="#333" stroke-width="0.55" />
<line x1="453.23749999999995" y1="177.2" x2="453.23749999999995" y2="179.0" stroke="#333" stroke-width="0.55" />
<line x1="452.3375" y1="185.4" x2="454.13749999999993" y2="185.4" stroke="#333" stroke-width="0.55" />
<line x1="453.23749999999995" y1="184.5" x2="453.23749999999995" y2="186.3" stroke="#333" stroke-width="0.55" />
<text transform="translate(490.6 125.05) scale(0.1000 0.1)" font-size="54.00" text-anchor="middle" font-weight="normal" fill="#000" stroke="#000" stroke-width="1.40" >PD-L1</text>
<rect x="470.28" y="154.60" width="2.80" height="6.15" fill="#c9c9c9" />
<rect x="474.43" y="154.60" width="2.80" height="6.15" fill="#c9c9c9" />
<rect x="481.25" y="151.75" width="2.75" height="9.00" fill="#000000" />
<rect x="485.28" y="139.00" width="2.80" height="21.75" fill="#000000" />
<line x1="486.675" y1="139" x2="486.675" y2="136.9" stroke="#111" stroke-width="0.7" />
<line x1="485.575" y1="136.9" x2="487.77500000000003" y2="136.9" stroke="#111" stroke-width="0.6" />
<rect x="492.50" y="154.25" width="2.50" height="6.50" fill="#858585" />
<rect x="496.55" y="152.00" width="2.80" height="8.75" fill="#858585" />
<line x1="497.95" y1="152" x2="497.95" y2="150.3" stroke="#111" stroke-width="0.7" />
<line x1="496.84999999999997" y1="150.3" x2="499.05" y2="150.3" stroke="#111" stroke-width="0.6" />
<rect x="503.50" y="154.90" width="2.75" height="5.85" fill="#303030" />
<rect x="507.50" y="158.25" width="2.75" height="2.50" fill="#303030" />
<line x1="467.85" y1="130.3" x2="467.85" y2="161.15" stroke="#000" stroke-width="0.9" />
<line x1="467.45000000000005" y1="160.75" x2="512" y2="160.75" stroke="#000" stroke-width="0.9" />
<line x1="466.35" y1="130.9" x2="467.85" y2="130.9" stroke="#000" stroke-width="0.8" />
<text transform="translate(465.15000000000003 132.20000000000002) scale(0.1000 0.1)" font-size="37.00" text-anchor="end" font-weight="normal" fill="#111" stroke="#111" stroke-width="1.20" >5</text>
<line x1="466.35" y1="136.8" x2="467.85" y2="136.8" stroke="#000" stroke-width="0.8" />
<text transform="translate(465.15000000000003 138.10000000000002) scale(0.1000 0.1)" font-size="37.00" text-anchor="end" font-weight="normal" fill="#111" stroke="#111" stroke-width="1.20" >4</text>
<line x1="466.35" y1="142.8" x2="467.85" y2="142.8" stroke="#000" stroke-width="0.8" />
<text transform="translate(465.15000000000003 144.10000000000002) scale(0.1000 0.1)" font-size="37.00" text-anchor="end" font-weight="normal" fill="#111" stroke="#111" stroke-width="1.20" >3</text>
<line x1="466.35" y1="148.7" x2="467.85" y2="148.7" stroke="#000" stroke-width="0.8" />
<text transform="translate(465.15000000000003 150.0) scale(0.1000 0.1)" font-size="37.00" text-anchor="end" font-weight="normal" fill="#111" stroke="#111" stroke-width="1.20" >2</text>
<line x1="466.35" y1="154.6" x2="467.85" y2="154.6" stroke="#000" stroke-width="0.8" />
<text transform="translate(465.15000000000003 155.9) scale(0.1000 0.1)" font-size="37.00" text-anchor="end" font-weight="normal" fill="#111" stroke="#111" stroke-width="1.20" >1</text>
<line x1="466.35" y1="160.75" x2="467.85" y2="160.75" stroke="#000" stroke-width="0.8" />
<text transform="translate(465.15000000000003 162.05) scale(0.1000 0.1)" font-size="37.00" text-anchor="end" font-weight="normal" fill="#111" stroke="#111" stroke-width="1.20" >0</text>
<line x1="471.675" y1="160.75" x2="471.675" y2="162.05" stroke="#222" stroke-width="0.5" />
<text transform="translate(471.88 163.35) rotate(-50) scale(0.1120 0.1)" font-size="36.00" text-anchor="end" font-weight="normal" fill="#333" stroke="#333" stroke-width="1.20" >MM1S</text>
<line x1="475.825" y1="160.75" x2="475.825" y2="162.05" stroke="#222" stroke-width="0.5" />
<text transform="translate(476.82 163.35) rotate(-50) scale(0.1120 0.1)" font-size="36.00" text-anchor="end" font-weight="normal" fill="#333" stroke="#333" stroke-width="1.20" >H929</text>
<line x1="482.625" y1="160.75" x2="482.625" y2="162.05" stroke="#222" stroke-width="0.5" />
<text transform="translate(482.83 163.35) rotate(-50) scale(0.1120 0.1)" font-size="36.00" text-anchor="end" font-weight="normal" fill="#333" stroke="#333" stroke-width="1.20" >MM1S</text>
<line x1="486.675" y1="160.75" x2="486.675" y2="162.05" stroke="#222" stroke-width="0.5" />
<text transform="translate(487.68 163.35) rotate(-50) scale(0.1120 0.1)" font-size="36.00" text-anchor="end" font-weight="normal" fill="#333" stroke="#333" stroke-width="1.20" >H929</text>
<line x1="493.75" y1="160.75" x2="493.75" y2="162.05" stroke="#222" stroke-width="0.5" />
<text transform="translate(493.95 163.35) rotate(-50) scale(0.1120 0.1)" font-size="36.00" text-anchor="end" font-weight="normal" fill="#333" stroke="#333" stroke-width="1.20" >MM1S</text>
<line x1="497.95" y1="160.75" x2="497.95" y2="162.05" stroke="#222" stroke-width="0.5" />
<text transform="translate(498.95 163.35) rotate(-50) scale(0.1120 0.1)" font-size="36.00" text-anchor="end" font-weight="normal" fill="#333" stroke="#333" stroke-width="1.20" >H929</text>
<line x1="504.875" y1="160.75" x2="504.875" y2="162.05" stroke="#222" stroke-width="0.5" />
<text transform="translate(505.08 163.35) rotate(-50) scale(0.1120 0.1)" font-size="36.00" text-anchor="end" font-weight="normal" fill="#333" stroke="#333" stroke-width="1.20" >MM1S</text>
<line x1="508.875" y1="160.75" x2="508.875" y2="162.05" stroke="#222" stroke-width="0.5" />
<text transform="translate(509.88 163.35) rotate(-50) scale(0.1120 0.1)" font-size="36.00" text-anchor="end" font-weight="normal" fill="#333" stroke="#333" stroke-width="1.20" >H929</text>
<line x1="468.1" y1="133.6" x2="504.4" y2="133.6" stroke="#222" stroke-width="0.6" />
<line x1="468.1" y1="133.29999999999998" x2="468.1" y2="135.0" stroke="#111" stroke-width="0.7" />
<line x1="504.4" y1="133.29999999999998" x2="504.4" y2="135.0" stroke="#111" stroke-width="0.7" />
<text transform="translate(476.086 135.29999999999998) scale(0.1000 0.1)" font-size="29.00" text-anchor="middle" font-weight="normal" fill="#333" stroke="#333" stroke-width="1.00" >****</text>
<text transform="translate(495.325 135.29999999999998) scale(0.1000 0.1)" font-size="29.00" text-anchor="middle" font-weight="normal" fill="#333" stroke="#333" stroke-width="1.00" >****</text>
<line x1="475" y1="136.5" x2="510" y2="136.5" stroke="#222" stroke-width="0.6" />
<line x1="475" y1="136.2" x2="475" y2="137.9" stroke="#111" stroke-width="0.7" />
<line x1="510" y1="136.2" x2="510" y2="137.9" stroke="#111" stroke-width="0.7" />
<text transform="translate(479.2 138.2) scale(0.1000 0.1)" font-size="29.00" text-anchor="middle" font-weight="normal" fill="#333" stroke="#333" stroke-width="1.00" >****</text>
<text transform="translate(498.1 138.2) scale(0.1000 0.1)" font-size="29.00" text-anchor="middle" font-weight="normal" fill="#333" stroke="#333" stroke-width="1.00" >****</text>
<line x1="482.625" y1="133.6" x2="482.625" y2="138.0" stroke="#222" stroke-width="0.55" />
<line x1="472.95" y1="178.1" x2="474.55" y2="178.1" stroke="#dadada" stroke-width="1.3" />
<line x1="472.95" y1="185.4" x2="474.55" y2="185.4" stroke="#dadada" stroke-width="1.3" />
<line x1="483.8625" y1="178.1" x2="485.46250000000003" y2="178.1" stroke="#dadada" stroke-width="1.3" />
<line x1="483.76250000000005" y1="185.4" x2="485.5625" y2="185.4" stroke="#333" stroke-width="0.55" />
<line x1="484.6625" y1="184.5" x2="484.6625" y2="186.3" stroke="#333" stroke-width="0.55" />
<line x1="495.025" y1="178.1" x2="496.82499999999993" y2="178.1" stroke="#333" stroke-width="0.55" />
<line x1="495.92499999999995" y1="177.2" x2="495.92499999999995" y2="179.0" stroke="#333" stroke-width="0.55" />
<line x1="495.12499999999994" y1="185.4" x2="496.72499999999997" y2="185.4" stroke="#dadada" stroke-width="1.3" />
<line x1="505.975" y1="178.1" x2="507.775" y2="178.1" stroke="#333" stroke-width="0.55" />
<line x1="506.875" y1="177.2" x2="506.875" y2="179.0" stroke="#333" stroke-width="0.55" />
<line x1="505.975" y1="185.4" x2="507.775" y2="185.4" stroke="#333" stroke-width="0.55" />
<line x1="506.875" y1="184.5" x2="506.875" y2="186.3" stroke="#333" stroke-width="0.55" />
<line x1="50" y1="22" x2="216.25" y2="22" stroke="#000" stroke-width="0.95" />
<line x1="50" y1="21.6" x2="50" y2="24.4" stroke="#000" stroke-width="0.85" />
<line x1="216.25" y1="21.6" x2="216.25" y2="24.4" stroke="#000" stroke-width="0.85" />
<text transform="translate(133.4 17.5) scale(0.1000 0.1)" font-size="54.00" text-anchor="middle" font-weight="normal" fill="#000" stroke="#000" stroke-width="1.60" >Cell proliferation</text>
<line x1="270.5" y1="22" x2="383" y2="22" stroke="#000" stroke-width="0.95" />
<line x1="270.5" y1="21.6" x2="270.5" y2="24.4" stroke="#000" stroke-width="0.85" />
<line x1="383" y1="21.6" x2="383" y2="24.4" stroke="#000" stroke-width="0.85" />
<text transform="translate(326.9 17.5) scale(0.1000 0.1)" font-size="54.00" text-anchor="middle" font-weight="normal" fill="#000" stroke="#000" stroke-width="1.60" >Anti-apoptosis</text>
<line x1="436.25" y1="22" x2="491.25" y2="22" stroke="#000" stroke-width="0.95" />
<line x1="436.25" y1="21.6" x2="436.25" y2="24.4" stroke="#000" stroke-width="0.85" />
<line x1="491.25" y1="21.6" x2="491.25" y2="24.4" stroke="#000" stroke-width="0.85" />
<text transform="translate(463.75 17.5) scale(0.1000 0.1)" font-size="54.00" text-anchor="middle" font-weight="normal" fill="#000" stroke="#000" stroke-width="1.60" >OC activation</text>
<line x1="50" y1="115" x2="104.5" y2="115" stroke="#000" stroke-width="0.95" />
<line x1="50" y1="114.6" x2="50" y2="117.4" stroke="#000" stroke-width="0.85" />
<line x1="104.5" y1="114.6" x2="104.5" y2="117.4" stroke="#000" stroke-width="0.85" />
<text transform="translate(77.5 110.0) scale(0.1000 0.1)" font-size="54.00" text-anchor="middle" font-weight="normal" fill="#000" stroke="#000" stroke-width="1.60" >Adhesion</text>
<line x1="160.5" y1="115" x2="326.25" y2="115" stroke="#000" stroke-width="0.95" />
<line x1="160.5" y1="114.6" x2="160.5" y2="117.4" stroke="#000" stroke-width="0.85" />
<line x1="326.25" y1="114.6" x2="326.25" y2="117.4" stroke="#000" stroke-width="0.85" />
<text transform="translate(243 110.0) scale(0.1000 0.1)" font-size="54.00" text-anchor="middle" font-weight="normal" fill="#000" stroke="#000" stroke-width="1.60" >Metastasis/angiogenesis</text>
<line x1="381.25" y1="115" x2="490" y2="115" stroke="#000" stroke-width="0.95" />
<line x1="381.25" y1="114.6" x2="381.25" y2="117.4" stroke="#000" stroke-width="0.85" />
<line x1="490" y1="114.6" x2="490" y2="117.4" stroke="#000" stroke-width="0.85" />
<text transform="translate(435.25 110.0) scale(0.1000 0.1)" font-size="54.00" text-anchor="middle" font-weight="normal" fill="#000" stroke="#000" stroke-width="1.60" >Immune function</text>
<text transform="translate(16.2 52.3) rotate(-90) scale(0.1000 0.1)" font-size="48.00" text-anchor="middle" font-weight="normal" fill="#111" stroke="#111" stroke-width="1.60" >Fold change</text>
<text transform="translate(21.0 86.5) scale(0.1120 0.1)" font-size="37.00" text-anchor="end" font-weight="normal" fill="#444" >BM</text>
<text transform="translate(21.1 93.4) scale(0.1000 0.1)" font-size="37.00" text-anchor="end" font-weight="normal" fill="#444" >APRIL</text>
<text transform="translate(16.2 145.3) rotate(-90) scale(0.1000 0.1)" font-size="48.00" text-anchor="middle" font-weight="normal" fill="#111" stroke="#111" stroke-width="1.60" >Fold change</text>
<text transform="translate(21.0 179.5) scale(0.1120 0.1)" font-size="37.00" text-anchor="end" font-weight="normal" fill="#444" >BM</text>
<text transform="translate(21.1 186.4) scale(0.1000 0.1)" font-size="37.00" text-anchor="end" font-weight="normal" fill="#444" >APRIL</text>
<text transform="translate(7.4 17.0) scale(0.0900 0.1)" font-size="120.00" text-anchor="start" font-weight="bold" fill="#000" stroke="#000" stroke-width="0.50" >A</text>
<text transform="translate(7.5 215) scale(0.0930 0.1)" font-size="116.00" text-anchor="start" font-weight="bold" fill="#000" stroke="#000" stroke-width="0.50" >B</text>
<line x1="68.4" y1="223.9" x2="68.4" y2="331.5" stroke="#000" stroke-width="0.95" />
<line x1="67.95" y1="282.5" x2="201.3" y2="282.5" stroke="#000" stroke-width="0.95" />
<line x1="65.4" y1="282.5" x2="68.4" y2="282.5" stroke="#000" stroke-width="0.9" />
<text transform="translate(61.800000000000004 285.4) scale(0.0980 0.1)" font-size="84.00" text-anchor="end" font-weight="normal" fill="#111" stroke="#111" stroke-width="2.00" >0</text>
<line x1="65.4" y1="271.3" x2="68.4" y2="271.3" stroke="#000" stroke-width="0.9" />
<text transform="translate(61.800000000000004 274.2) scale(0.0980 0.1)" font-size="84.00" text-anchor="end" font-weight="normal" fill="#111" stroke="#111" stroke-width="2.00" >100</text>
<line x1="65.4" y1="260.1" x2="68.4" y2="260.1" stroke="#000" stroke-width="0.9" />
<text transform="translate(61.800000000000004 263.0) scale(0.0980 0.1)" font-size="84.00" text-anchor="end" font-weight="normal" fill="#111" stroke="#111" stroke-width="2.00" >200</text>
<line x1="65.4" y1="248.9" x2="68.4" y2="248.9" stroke="#000" stroke-width="0.9" />
<text transform="translate(61.800000000000004 251.8) scale(0.0980 0.1)" font-size="84.00" text-anchor="end" font-weight="normal" fill="#111" stroke="#111" stroke-width="2.00" >300</text>
<line x1="65.4" y1="237.7" x2="68.4" y2="237.7" stroke="#000" stroke-width="0.9" />
<text transform="translate(61.800000000000004 240.6) scale(0.0980 0.1)" font-size="84.00" text-anchor="end" font-weight="normal" fill="#111" stroke="#111" stroke-width="2.00" >400</text>
<line x1="65.4" y1="226.5" x2="68.4" y2="226.5" stroke="#000" stroke-width="0.9" />
<text transform="translate(61.800000000000004 229.4) scale(0.0980 0.1)" font-size="84.00" text-anchor="end" font-weight="normal" fill="#111" stroke="#111" stroke-width="2.00" >500</text>
<text transform="translate(30.3 253.0) rotate(-90) scale(0.0960 0.1)" font-size="95.00" text-anchor="middle" font-weight="normal" fill="#111" stroke="#111" stroke-width="2.00" >% tumor growth</text>
<text transform="translate(43.9 253.3) rotate(-90) scale(0.0960 0.1)" font-size="96.00" text-anchor="middle" font-weight="normal" fill="#111" stroke="#111" stroke-width="2.00" >(sIL6R)</text>
<line x1="82.8" y1="282.5" x2="82.8" y2="313" stroke="#000" stroke-width="0.85" />
<line x1="97.15" y1="282.5" x2="97.15" y2="313" stroke="#000" stroke-width="0.85" />
<line x1="111.5" y1="282.5" x2="111.5" y2="313" stroke="#000" stroke-width="0.85" />
<line x1="125.8" y1="282.5" x2="125.8" y2="313" stroke="#000" stroke-width="0.85" />
<line x1="154.7" y1="282.5" x2="154.7" y2="313" stroke="#000" stroke-width="0.85" />
<line x1="169.3" y1="282.5" x2="169.3" y2="313" stroke="#000" stroke-width="0.85" />
<line x1="183.7" y1="282.5" x2="183.7" y2="313" stroke="#000" stroke-width="0.85" />
<line x1="140.1" y1="282.5" x2="140.1" y2="331.5" stroke="#000" stroke-width="0.85" />
<line x1="198.3" y1="282.5" x2="198.3" y2="331.5" stroke="#000" stroke-width="0.85" />
<text transform="translate(75.7 292.6) scale(0.1100 0.1)" font-size="78.00" text-anchor="middle" font-weight="normal" fill="#111" stroke="#111" stroke-width="2.00" >d 0</text>
<text transform="translate(90.0 292.6) scale(0.1120 0.1)" font-size="78.00" text-anchor="middle" font-weight="normal" fill="#111" stroke="#111" stroke-width="2.00" >d</text>
<text transform="translate(90.0 304.9) scale(0.1000 0.1)" font-size="82.00" text-anchor="middle" font-weight="normal" fill="#111" stroke="#111" stroke-width="2.00" >18</text>
<text transform="translate(104.3 292.6) scale(0.1120 0.1)" font-size="78.00" text-anchor="middle" font-weight="normal" fill="#111" stroke="#111" stroke-width="2.00" >d</text>
<text transform="translate(104.3 304.9) scale(0.1000 0.1)" font-size="82.00" text-anchor="middle" font-weight="normal" fill="#111" stroke="#111" stroke-width="2.00" >25</text>
<text transform="translate(118.6 292.6) scale(0.1120 0.1)" font-size="78.00" text-anchor="middle" font-weight="normal" fill="#111" stroke="#111" stroke-width="2.00" >d</text>
<text transform="translate(118.6 304.9) scale(0.1000 0.1)" font-size="82.00" text-anchor="middle" font-weight="normal" fill="#111" stroke="#111" stroke-width="2.00" >32</text>
<text transform="translate(147.5 292.6) scale(0.1100 0.1)" font-size="78.00" text-anchor="middle" font-weight="normal" fill="#111" stroke="#111" stroke-width="2.00" >d 0</text>
<text transform="translate(162.0 292.6) scale(0.1120 0.1)" font-size="78.00" text-anchor="middle" font-weight="normal" fill="#111" stroke="#111" stroke-width="2.00" >d</text>
<text transform="translate(162.0 304.9) scale(0.1000 0.1)" font-size="82.00" text-anchor="middle" font-weight="normal" fill="#111" stroke="#111" stroke-width="2.00" >18</text>
<text transform="translate(176.5 292.6) scale(0.1120 0.1)" font-size="78.00" text-anchor="middle" font-weight="normal" fill="#111" stroke="#111" stroke-width="2.00" >d</text>
<text transform="translate(176.5 304.9) scale(0.1000 0.1)" font-size="82.00" text-anchor="middle" font-weight="normal" fill="#111" stroke="#111" stroke-width="2.00" >25</text>
<text transform="translate(191.0 292.6) scale(0.1120 0.1)" font-size="78.00" text-anchor="middle" font-weight="normal" fill="#111" stroke="#111" stroke-width="2.00" >d</text>
<text transform="translate(191.0 304.9) scale(0.1000 0.1)" font-size="82.00" text-anchor="middle" font-weight="normal" fill="#111" stroke="#111" stroke-width="2.00" >32</text>
<text transform="translate(104.3 324.7) scale(0.0850 0.1)" font-size="102.00" text-anchor="middle" font-weight="normal" fill="#111" stroke="#111" stroke-width="2.20" >01A Ab</text>
<text transform="translate(169.5 324.7) scale(0.0900 0.1)" font-size="100.00" text-anchor="middle" font-weight="normal" fill="#111" stroke="#111" stroke-width="2.20" >control</text>
<clipPath id="cl"><rect x="60" y="200" width="150" height="82.97"/></clipPath><g clip-path="url(#cl)">
<polyline points="72.50,282.80 89.75,281.00 104.10,277.60 119.10,266.00" fill="none" stroke="#000" stroke-width="1.45" stroke-linejoin="miter" stroke-linecap="butt"/>
<polyline points="72.50,282.80 89.75,281.90 104.10,281.80 119.10,270.20" fill="none" stroke="#000" stroke-width="1.45" stroke-linejoin="miter" stroke-linecap="butt"/>
<polyline points="72.50,282.80 89.75,282.10 104.10,282.00 119.10,271.90" fill="none" stroke="#000" stroke-width="1.45" stroke-linejoin="miter" stroke-linecap="butt"/>
<polyline points="146.50,282.80 162.25,280.90 176.50,265.10 191.10,231.90" fill="none" stroke="#000" stroke-width="1.45" stroke-linejoin="miter" stroke-linecap="butt"/>
<polyline points="146.50,282.80 162.25,281.40 176.30,276.80 191.10,235.70" fill="none" stroke="#000" stroke-width="1.45" stroke-linejoin="miter" stroke-linecap="butt"/>
<polyline points="146.50,282.80 162.25,281.60 176.30,277.90 191.10,251.80" fill="none" stroke="#000" stroke-width="1.45" stroke-linejoin="miter" stroke-linecap="butt"/>
<polyline points="146.50,282.80 162.25,281.80 176.30,278.80 191.10,261.70" fill="none" stroke="#000" stroke-width="1.45" stroke-linejoin="miter" stroke-linecap="butt"/>
</g>
<line x1="262.4" y1="231.4" x2="262.4" y2="311.75" stroke="#000" stroke-width="0.9" />
<line x1="261.95" y1="311.3" x2="380" y2="311.3" stroke="#000" stroke-width="0.9" />
<line x1="259.2" y1="311.3" x2="262.4" y2="311.3" stroke="#000" stroke-width="0.85" />
<text transform="translate(257.4 314.15000000000003) scale(0.1000 0.1)" font-size="82.00" text-anchor="end" font-weight="normal" fill="#111" stroke="#111" stroke-width="2.00" >0</text>
<line x1="259.2" y1="295.84000000000003" x2="262.4" y2="295.84000000000003" stroke="#000" stroke-width="0.85" />
<text transform="translate(257.4 298.69000000000005) scale(0.1000 0.1)" font-size="82.00" text-anchor="end" font-weight="normal" fill="#111" stroke="#111" stroke-width="2.00" >100</text>
<line x1="259.2" y1="280.38" x2="262.4" y2="280.38" stroke="#000" stroke-width="0.85" />
<text transform="translate(257.4 283.23) scale(0.1000 0.1)" font-size="82.00" text-anchor="end" font-weight="normal" fill="#111" stroke="#111" stroke-width="2.00" >200</text>
<line x1="259.2" y1="264.92" x2="262.4" y2="264.92" stroke="#000" stroke-width="0.85" />
<text transform="translate(257.4 267.77000000000004) scale(0.1000 0.1)" font-size="82.00" text-anchor="end" font-weight="normal" fill="#111" stroke="#111" stroke-width="2.00" >300</text>
<line x1="259.2" y1="249.46" x2="262.4" y2="249.46" stroke="#000" stroke-width="0.85" />
<text transform="translate(257.4 252.31) scale(0.1000 0.1)" font-size="82.00" text-anchor="end" font-weight="normal" fill="#111" stroke="#111" stroke-width="2.00" >400</text>
<line x1="259.2" y1="234.0" x2="262.4" y2="234.0" stroke="#000" stroke-width="0.85" />
<text transform="translate(257.4 236.85) scale(0.1000 0.1)" font-size="82.00" text-anchor="end" font-weight="normal" fill="#111" stroke="#111" stroke-width="2.00" >500</text>
<text transform="translate(226.2 271.5) rotate(-90) scale(0.0915 0.1)" font-size="93.00" text-anchor="middle" font-weight="normal" fill="#111" stroke="#111" stroke-width="2.00" >Tumor Burden</text>
<text transform="translate(237.5 272.1) rotate(-90) scale(0.0935 0.1)" font-size="94.00" text-anchor="middle" font-weight="normal" fill="#111" stroke="#111" stroke-width="2.00" >fold increase (sIL6R)</text>
<line x1="277" y1="311.3" x2="277" y2="314.1" stroke="#000" stroke-width="0.9" />
<text transform="translate(277 324.9) scale(0.0960 0.1)" font-size="83.00" text-anchor="middle" font-weight="normal" fill="#111" stroke="#111" stroke-width="2.00" >0</text>
<line x1="306.5" y1="311.3" x2="306.5" y2="314.1" stroke="#000" stroke-width="0.9" />
<text transform="translate(306.5 324.9) scale(0.0960 0.1)" font-size="83.00" text-anchor="middle" font-weight="normal" fill="#111" stroke="#111" stroke-width="2.00" >18</text>
<line x1="336" y1="311.3" x2="336" y2="314.1" stroke="#000" stroke-width="0.9" />
<text transform="translate(336 324.9) scale(0.0960 0.1)" font-size="83.00" text-anchor="middle" font-weight="normal" fill="#111" stroke="#111" stroke-width="2.00" >25</text>
<line x1="365.5" y1="311.3" x2="365.5" y2="314.1" stroke="#000" stroke-width="0.9" />
<text transform="translate(365.5 324.9) scale(0.0960 0.1)" font-size="83.00" text-anchor="middle" font-weight="normal" fill="#111" stroke="#111" stroke-width="2.00" >32</text>
<text transform="translate(321.5 337.1) scale(0.0895 0.1)" font-size="98.00" text-anchor="middle" font-weight="normal" fill="#111" stroke="#111" stroke-width="2.20" >post treatment days</text>
<rect x="266.80" y="235.50" width="8.70" height="4.60" fill="#b9b9b9" />
<rect x="266.80" y="245.20" width="8.70" height="4.50" fill="#666" />
<text transform="translate(278.3 240.3) scale(0.0970 0.1)" font-size="78.00" text-anchor="start" font-weight="normal" fill="#111" stroke="#111" stroke-width="1.80" >01A</text>
<text transform="translate(278.3 249.9) scale(0.1000 0.1)" font-size="78.00" text-anchor="start" font-weight="normal" fill="#111" stroke="#111" stroke-width="1.80" >Control</text>
<text transform="translate(348.6 228.9) scale(0.1000 0.1)" font-size="73.50" text-anchor="start" font-weight="normal" fill="#111" stroke="#111" stroke-width="2.00" ><tspan font-style="italic">P</tspan> &lt; .0001</text>
<path d="M358.6 236.6 V234.3 H370.6 V236.6" fill="none" stroke="#111" stroke-width="1"/>
<line x1="268.8" y1="310.5" x2="273.6" y2="310.5" stroke="#222" stroke-width="0.9" />
<line x1="280.2" y1="310.5" x2="285" y2="310.5" stroke="#222" stroke-width="0.9" />
<line x1="301.20000000000005" y1="308.8" x2="301.20000000000005" y2="309.5" stroke="#222" stroke-width="1.0" />
<line x1="301.20000000000005" y1="311.1" x2="301.20000000000005" y2="311.3" stroke="#222" stroke-width="1.0" />
<line x1="299.00000000000006" y1="308.8" x2="303.40000000000003" y2="308.8" stroke="#222" stroke-width="1.0" />
<line x1="299.00000000000006" y1="311.3" x2="303.40000000000003" y2="311.3" stroke="#222" stroke-width="1.0" />
<rect x="297.6" y="309.5" width="7.20" height="1.60" fill="#444" stroke="#333" stroke-width="0.5"/>
<line x1="297.6" y1="310.5" x2="304.8" y2="310.5" stroke="#222" stroke-width="1.3" />
<line x1="312.2" y1="308.8" x2="312.2" y2="309.5" stroke="#222" stroke-width="1.0" />
<line x1="312.2" y1="311.1" x2="312.2" y2="311.3" stroke="#222" stroke-width="1.0" />
<line x1="310.0" y1="308.8" x2="314.4" y2="308.8" stroke="#222" stroke-width="1.0" />
<line x1="310.0" y1="311.3" x2="314.4" y2="311.3" stroke="#222" stroke-width="1.0" />
<rect x="308.7" y="309.5" width="7.00" height="1.60" fill="#444" stroke="#333" stroke-width="0.5"/>
<line x1="308.7" y1="310.5" x2="315.7" y2="310.5" stroke="#222" stroke-width="1.3" />
<line x1="330.5" y1="304.1" x2="330.5" y2="305.3" stroke="#222" stroke-width="1.0" />
<line x1="330.5" y1="310.6" x2="330.5" y2="311.0" stroke="#222" stroke-width="1.0" />
<line x1="328.3" y1="304.1" x2="332.7" y2="304.1" stroke="#222" stroke-width="1.0" />
<line x1="328.3" y1="311.0" x2="332.7" y2="311.0" stroke="#222" stroke-width="1.0" />
<rect x="327" y="305.3" width="7.00" height="5.30" fill="#bbb" stroke="#888" stroke-width="0.5"/>
<line x1="327" y1="309.7" x2="334" y2="309.7" stroke="#222" stroke-width="1.3" />
<line x1="341.9" y1="287.8" x2="341.9" y2="292" stroke="#222" stroke-width="1.0" />
<line x1="341.9" y1="306" x2="341.9" y2="306.4" stroke="#222" stroke-width="1.0" />
<line x1="339.7" y1="287.8" x2="344.09999999999997" y2="287.8" stroke="#222" stroke-width="1.0" />
<line x1="339.7" y1="306.4" x2="344.09999999999997" y2="306.4" stroke="#222" stroke-width="1.0" />
<rect x="338.2" y="292" width="7.40" height="14.00" fill="#686868" stroke="#555" stroke-width="0.5"/>
<line x1="338.2" y1="304.5" x2="345.6" y2="304.5" stroke="#222" stroke-width="1.3" />
<line x1="359.9" y1="288.5" x2="359.9" y2="290.1" stroke="#222" stroke-width="1.0" />
<line x1="359.9" y1="295.2" x2="359.9" y2="296.6" stroke="#222" stroke-width="1.0" />
<line x1="357.7" y1="288.5" x2="362.09999999999997" y2="288.5" stroke="#222" stroke-width="1.0" />
<line x1="357.7" y1="296.6" x2="362.09999999999997" y2="296.6" stroke="#222" stroke-width="1.0" />
<rect x="356.1" y="290.1" width="7.60" height="5.10" fill="#bbb" stroke="#888" stroke-width="0.5"/>
<line x1="356.1" y1="294.5" x2="363.7" y2="294.5" stroke="#222" stroke-width="1.3" />
<line x1="371.05" y1="241.4" x2="371.05" y2="242.6" stroke="#222" stroke-width="1.0" />
<line x1="371.05" y1="278.8" x2="371.05" y2="282.3" stroke="#222" stroke-width="1.0" />
<line x1="368.85" y1="241.4" x2="373.25" y2="241.4" stroke="#222" stroke-width="1.0" />
<line x1="368.85" y1="282.3" x2="373.25" y2="282.3" stroke="#222" stroke-width="1.0" />
<rect x="367.3" y="242.6" width="7.50" height="36.20" fill="#686868" stroke="#555" stroke-width="0.5"/>
<line x1="367.3" y1="258.1" x2="374.8" y2="258.1" stroke="#222" stroke-width="1.3" />
<rect x="0" y="0" width="520" height="0.85" fill="#000"/>
<rect x="0" y="0" width="0.85" height="347" fill="#000"/>
<rect x="519.0" y="0" width="1.0" height="347" fill="#000"/>
<rect x="0" y="346.1" width="520" height="0.9" fill="#000"/>
</g></svg></body></html>
